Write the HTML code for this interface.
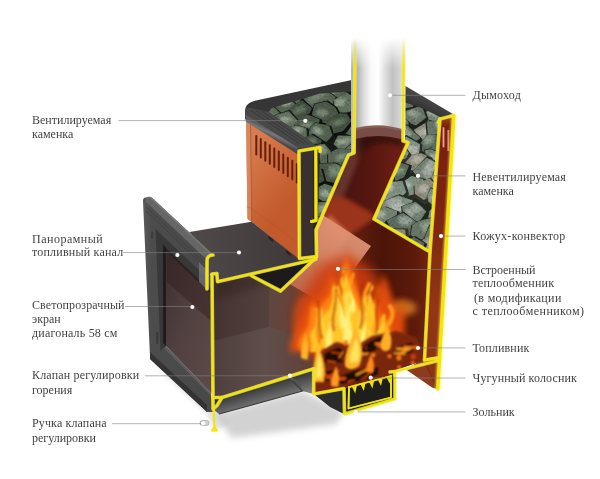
<!DOCTYPE html>
<html lang="ru"><head><meta charset="utf-8"><title>Печь</title>
<style>
html,body{margin:0;padding:0;background:#fff;}
svg{display:block;}
text{font-family:"Liberation Serif",serif;font-size:12px;fill:#1e1e1e;}
</style></head><body>
<svg width="600" height="479" viewBox="0 0 600 479">
<defs>
<filter id="b05" x="-10%" y="-10%" width="120%" height="120%"><feGaussianBlur stdDeviation="0.5"/></filter>
<filter id="b1" x="-20%" y="-20%" width="140%" height="140%"><feGaussianBlur stdDeviation="1"/></filter>
<filter id="b2" x="-30%" y="-30%" width="160%" height="160%"><feGaussianBlur stdDeviation="2"/></filter>
<filter id="b3" x="-30%" y="-30%" width="160%" height="160%"><feGaussianBlur stdDeviation="3.2"/></filter>
<filter id="b6" x="-40%" y="-40%" width="180%" height="180%"><feGaussianBlur stdDeviation="6"/></filter>
<filter id="noise" x="0" y="0" width="100%" height="100%"><feTurbulence type="fractalNoise" baseFrequency="0.45" numOctaves="3" seed="4"/><feColorMatrix type="matrix" values="0.6 0.6 0.6 0 -0.35  0.6 0.6 0.6 0 -0.35  0.6 0.6 0.6 0 -0.35  0 0 0 0 1"/><feGaussianBlur stdDeviation="0.5"/></filter>
<linearGradient id="gOr" gradientUnits="userSpaceOnUse" x1="248" y1="150" x2="298" y2="190"><stop offset="0" stop-color="#d67c50"/><stop offset="0.5" stop-color="#cd6a3c"/><stop offset="1" stop-color="#c25a2c"/></linearGradient>
<linearGradient id="gCh" gradientUnits="userSpaceOnUse" x1="351" y1="0" x2="405.5" y2="0">
 <stop offset="0" stop-color="#bebebe"/><stop offset="0.06" stop-color="#a4a4a4"/><stop offset="0.1" stop-color="#adadad"/><stop offset="0.22" stop-color="#d8d8d8"/><stop offset="0.36" stop-color="#f8f8f8"/><stop offset="0.5" stop-color="#ffffff"/><stop offset="0.6" stop-color="#e4e4e4"/><stop offset="0.76" stop-color="#c2c2c2"/><stop offset="0.9" stop-color="#d4d4d4"/><stop offset="1" stop-color="#e6e6e6"/></linearGradient>
<linearGradient id="gFade" gradientUnits="userSpaceOnUse" x1="0" y1="38" x2="0" y2="68"><stop offset="0" stop-color="#000"/><stop offset="1" stop-color="#fff"/></linearGradient>
<mask id="mCh" maskUnits="userSpaceOnUse" x="200" y="0" width="300" height="479"><rect x="200" y="0" width="300" height="479" fill="url(#gFade)"/></mask>
<linearGradient id="gFlue" gradientUnits="userSpaceOnUse" x1="330" y1="0" x2="405" y2="0"><stop offset="0" stop-color="#431511"/><stop offset="0.55" stop-color="#56160f"/><stop offset="1" stop-color="#722016"/></linearGradient>
<linearGradient id="gFb" gradientUnits="userSpaceOnUse" x1="213" y1="0" x2="430" y2="0"><stop offset="0" stop-color="#5a2a20"/><stop offset="0.5" stop-color="#7a2a14"/><stop offset="0.78" stop-color="#4c1409"/><stop offset="0.93" stop-color="#5c1a0b"/><stop offset="1" stop-color="#73260f"/></linearGradient>
<linearGradient id="gHx" x1="0" y1="1" x2="1" y2="0"><stop offset="0" stop-color="#b8604a"/><stop offset="0.6" stop-color="#d88a6c"/><stop offset="1" stop-color="#e8a07c"/></linearGradient>
<linearGradient id="gGlass" x1="0" y1="0" x2="1" y2="1"><stop offset="0" stop-color="#3a2a29"/><stop offset="0.5" stop-color="#514040"/><stop offset="1" stop-color="#5e4b48"/></linearGradient>
<linearGradient id="gChanIn" gradientUnits="userSpaceOnUse" x1="213" y1="0" x2="316" y2="0"><stop offset="0" stop-color="#433330"/><stop offset="0.54" stop-color="#54413d"/><stop offset="0.55" stop-color="#5e4742"/><stop offset="1" stop-color="#7a3a26"/></linearGradient>
<linearGradient id="gFloor" gradientUnits="userSpaceOnUse" x1="213" y1="0" x2="320" y2="0"><stop offset="0" stop-color="#4e3f3d"/><stop offset="0.5" stop-color="#604e4a"/><stop offset="1" stop-color="#623e36"/></linearGradient>
<linearGradient id="gCas" x1="0" y1="0" x2="0" y2="1"><stop offset="0" stop-color="#a8481c"/><stop offset="0.04" stop-color="#7a1f10"/><stop offset="0.35" stop-color="#7c240f"/><stop offset="0.7" stop-color="#933614"/><stop offset="1" stop-color="#8a3414"/></linearGradient>
<linearGradient id="gFrame" x1="0" y1="0" x2="1" y2="0"><stop offset="0" stop-color="#5a5a5a"/><stop offset="0.12" stop-color="#4c4c4c"/><stop offset="1" stop-color="#484848"/></linearGradient>
<linearGradient id="gUnder" gradientUnits="userSpaceOnUse" x1="260" y1="385" x2="266" y2="405"><stop offset="0" stop-color="#333"/><stop offset="1" stop-color="#7e7e7e"/></linearGradient>
<linearGradient id="gBead" gradientUnits="userSpaceOnUse" x1="272" y1="131" x2="269" y2="137.5"><stop offset="0" stop-color="#5e5e5e"/><stop offset="0.35" stop-color="#787878"/><stop offset="1" stop-color="#4a4a4a"/></linearGradient>
<linearGradient id="gTop" gradientUnits="userSpaceOnUse" x1="200" y1="0" x2="300" y2="0"><stop offset="0" stop-color="#4e4848"/><stop offset="1" stop-color="#3e3838"/></linearGradient>
<g id="yl" fill="none" stroke-linejoin="round" stroke-linecap="round">
<g mask="url(#mCh)">
<path d="M355.3,25 L354,153 L348.5,155 L316,230 L316.5,256.5 L299.5,258.5 L299,151 L320,147.5 L320,151.5"/>
<path d="M403.8,25 L403,141 L408,142.5 L374,219 L430,252 L424.5,360"/>
</g>
<path d="M315.8,150 L316,220.5 L311.5,221.5" stroke-width="3"/>
<path d="M438.5,122 L440,119 L453.5,115.5" />
<path d="M440,119 L430,252"/>
<path d="M424.5,360 L437,358"/>
<path d="M436.5,361 L395,371.5 L394.5,376"/>
<path d="M390,372 L395,371.5 L395,399 L344.5,414 L344,388.5 L313.7,394 L313.7,368.7 L222,397.5 L213,397.5"/>
<path d="M349,387 L348.5,408.5 L391,397.5 L391,376 L349.5,387" stroke-width="1.8"/>
<path d="M213,255 C209,255 207,257.5 207,261 L207,289" />
<path d="M216.8,273.6 L212,274 L213,397 L213,409 L217,405.5 L222,397.5" />
<path d="M213.5,409 L214.5,427 L212,430.5 L217,430.5 L214.5,427" stroke-width="2"/>
<path d="M216.8,273.6 L217.5,281.7 L315.7,259.3"/>
<path d="M251.4,275.7 L280.6,291 L316,257.5"/>
</g>
<linearGradient id="gRimR" gradientUnits="userSpaceOnUse" x1="425" y1="97" x2="418" y2="112"><stop offset="0" stop-color="#484848"/><stop offset="1" stop-color="#2c2c2c"/></linearGradient>
<clipPath id="cStL"><polygon points="268.7,111.7 272,108 320,93.5 353,91.5 353,153 348,155 317,228 317,147 313,143"/></clipPath>
<clipPath id="cStR"><polygon points="405,102.5 424,109 441,117.5 441,119 431,252 374,219 408,142.5 405,142"/></clipPath>
<clipPath id="cFb"><polygon points="354,124 403,124 403,141 408,142.5 374,219 430,252 424,360 394,371 390,376 349,387 344,388 313.7,393.7 313.7,368.7 222,397 212,397 212,273.5 217,273.5 217.5,282 311,260 316,257 316,230 348,155 354,153"/></clipPath>
</defs>

<rect width="600" height="479" fill="#fff"/>

<!-- shadow under door -->
<polygon points="150,362 207,414 214,430 230,424 214,404" fill="#d0d0d0" filter="url(#b2)" opacity="0.6"/>

<!-- far side convector leg -->
<polygon points="406,369.5 424,358 438,356 437.5,389 432,387.5" fill="#8c3c1c"/>
<polygon points="424,280 440,280 437,389 424,362" fill="#7a2410"/>

<!-- orange casing -->
<polygon points="246,119 298,152 298,259 251.7,221.7 247.5,219" fill="url(#gOr)"/>
<polygon points="246,119 250.5,122 251.7,221.7 247.5,219" fill="#dc8a60" opacity="0.8"/>
<path d="M250.5,122 L251.7,221.7" stroke="#a84c26" stroke-width="0.7" fill="none"/>
<path d="M247,206.5 L251.5,208.5 L298,243" stroke="#b05530" stroke-width="0.7" fill="none" opacity="0.6"/>
<rect x="255.3" y="135.0" width="2" height="20.5" rx="1" fill="#64200b"/>
<rect x="259.8" y="138.1" width="2" height="20.5" rx="1" fill="#64200b"/>
<rect x="264.3" y="141.2" width="2" height="20.5" rx="1" fill="#64200b"/>
<rect x="268.8" y="144.3" width="2" height="20.5" rx="1" fill="#64200b"/>
<rect x="273.3" y="147.4" width="2" height="20.5" rx="1" fill="#64200b"/>
<rect x="277.8" y="150.5" width="2" height="20.5" rx="1" fill="#64200b"/>
<rect x="282.3" y="153.6" width="2" height="20.5" rx="1" fill="#64200b"/>
<rect x="286.8" y="156.7" width="2" height="20.5" rx="1" fill="#64200b"/>
<rect x="291.3" y="159.8" width="2" height="20.5" rx="1" fill="#64200b"/>
<rect x="295.8" y="162.9" width="2" height="20.5" rx="1" fill="#64200b"/>

<!-- rim -->
<path d="M245,119 L245,112 C245,105.5 249,102 256,100.6 L353,79.8 L353,140 L320,150 L297.5,154 Z" fill="#363636"/>
<path d="M405,85.8 L453,114 L438,121 L405,106 Z" fill="url(#gRimR)"/>
<!-- lip -->
<path d="M245.3,114.5 C245,110 246,107.5 248.5,107.5 L268.7,111.7 L313,143 L320,147.5 L297.5,148.5 Z" fill="#484848"/>
<path d="M251,110.5 L299,143.5 M256,110.5 L304,143.5 M261.5,111 L309,144" stroke="#383838" stroke-width="0.9" fill="none"/>
<path d="M245.3,114.5 L297.5,147.5 L297.5,154 L245.8,121.7 Z" fill="url(#gBead)"/>
<!-- stones left -->
<g clip-path="url(#cStL)"><rect x="255" y="80" width="110" height="160" fill="#121714"/>
<g filter="url(#b05)"><polygon points="274.5,91.6 287.5,85.3 295.0,85.1 305.2,92.7 300.3,107.1 292.0,109.1 279.0,103.0" fill="#101410" stroke="#101410" stroke-width="2.5" stroke-linejoin="round"/>
<polygon points="275.6,90.7 287.0,85.7 293.6,85.5 302.6,91.7 298.3,103.1 291.0,104.7 279.6,99.9" fill="#485446" stroke="#485446" stroke-width="2" stroke-linejoin="round"/>
<polygon points="281.1,91.9 286.2,90.0 288.9,89.1 294.7,93.0 291.4,98.4 288.1,98.1 282.6,96.3" fill="#86937f" opacity="0.47" filter="url(#b1)"/>
<polygon points="284.8,90.2 288.8,89.1 291.8,87.5 297.8,90.9 294.8,95.4 290.5,95.4 286.1,93.8" fill="#86937f" opacity="0.58" filter="url(#b1)"/>
<polygon points="345.3,86.2 348.5,95.0 330.8,106.4 320.6,106.0 325.5,89.9" fill="#101410" stroke="#101410" stroke-width="2.5" stroke-linejoin="round"/>
<polygon points="343.2,86.3 346.0,93.3 330.5,102.4 321.4,102.1 325.8,89.3" fill="#485446" stroke="#485446" stroke-width="2" stroke-linejoin="round"/>
<polygon points="336.5,87.4 335.8,89.9 329.6,94.8 325.5,93.4 327.7,88.1" fill="#86937f" opacity="0.47" filter="url(#b1)"/>
<polygon points="336.0,88.3 339.4,92.0 330.1,95.1 326.9,95.2 328.9,89.7" fill="#86937f" opacity="0.57" filter="url(#b1)"/>
<polygon points="323.7,89.4 337.2,98.8 334.6,105.9 325.2,110.9 310.0,111.2 302.6,98.9 313.5,91.6" fill="#101410" stroke="#101410" stroke-width="2.5" stroke-linejoin="round"/>
<polygon points="322.6,89.9 334.5,97.4 332.1,103.2 323.9,107.2 310.5,107.4 304.0,97.6 313.6,91.7" fill="#485446" stroke="#485446" stroke-width="2" stroke-linejoin="round"/>
<polygon points="321.2,91.4 327.6,94.4 324.5,97.1 322.2,97.7 314.5,98.8 314.6,94.4 316.7,90.8" fill="#86937f" opacity="0.35" filter="url(#b1)"/>
<polygon points="315.0,93.8 319.9,97.7 318.6,100.4 315.7,102.6 308.6,103.1 306.9,97.9 310.7,96.3" fill="#86937f" opacity="0.32" filter="url(#b1)"/>
<polygon points="275.1,94.9 276.2,104.3 256.4,112.8 249.5,98.1 257.6,91.0" fill="#101410" stroke="#101410" stroke-width="2.5" stroke-linejoin="round"/>
<polygon points="273.0,94.2 274.0,101.8 256.6,108.6 250.4,96.8 257.5,91.1" fill="#485446" stroke="#485446" stroke-width="2" stroke-linejoin="round"/>
<polygon points="268.1,94.5 267.5,97.8 260.7,101.1 256.8,95.8 260.7,92.8" fill="#86937f" opacity="0.36" filter="url(#b1)"/>
<polygon points="263.6,91.8 263.2,95.4 256.8,99.4 252.3,93.3 256.7,89.9" fill="#86937f" opacity="0.39" filter="url(#b1)"/>
<polygon points="347.4,92.5 357.4,100.3 351.6,114.2 335.8,118.7 334.3,101.6" fill="#131813" stroke="#131813" stroke-width="2.5" stroke-linejoin="round"/>
<polygon points="346.3,93.3 355.0,99.6 349.9,110.7 336.1,114.3 334.8,100.6" fill="#505d4e" stroke="#505d4e" stroke-width="2" stroke-linejoin="round"/>
<polygon points="340.2,99.0 345.4,101.6 342.6,106.2 335.7,107.3 333.9,102.0" fill="#929e8b" opacity="0.41" filter="url(#b1)"/>
<polygon points="341.0,96.7 346.9,99.3 343.5,104.9 336.0,104.5 335.0,99.8" fill="#929e8b" opacity="0.32" filter="url(#b1)"/>
<polygon points="274.6,98.6 290.5,99.4 298.1,106.9 293.3,116.1 285.2,120.8 271.6,115.8 268.9,109.4" fill="#111511" stroke="#111511" stroke-width="2.5" stroke-linejoin="round"/>
<polygon points="274.8,98.9 288.8,99.5 295.5,105.5 291.3,112.9 284.2,116.6 272.2,112.6 269.8,107.5" fill="#455143" stroke="#455143" stroke-width="2" stroke-linejoin="round"/>
<polygon points="280.9,98.9 288.9,100.6 292.6,102.9 289.6,105.5 286.5,106.6 281.2,105.6 279.2,103.6" fill="#98a391" opacity="0.49" filter="url(#b1)"/>
<polygon points="280.8,99.2 287.1,98.7 290.6,102.4 287.9,104.8 285.4,106.1 278.5,104.9 278.4,103.1" fill="#98a391" opacity="0.35" filter="url(#b1)"/>
<polygon points="290.5,125.2 288.0,112.1 303.0,100.7 313.1,109.7 307.3,121.8" fill="#0b0e0b" stroke="#0b0e0b" stroke-width="2.5" stroke-linejoin="round"/>
<polygon points="290.9,121.0 288.7,110.5 301.9,101.4 310.8,108.6 305.7,118.3" fill="#374236" stroke="#374236" stroke-width="2" stroke-linejoin="round"/>
<polygon points="289.7,116.8 288.9,111.2 296.2,107.8 299.6,110.6 297.2,115.1" fill="#687663" opacity="0.33" filter="url(#b1)"/>
<polygon points="296.1,113.6 295.3,108.4 302.0,105.0 306.2,107.6 304.5,112.5" fill="#687663" opacity="0.52" filter="url(#b1)"/>
<polygon points="260.9,100.9 273.9,107.3 286.0,119.3 281.9,128.1 271.6,129.7 252.8,117.0 254.4,105.7" fill="#0b0e0b" stroke="#0b0e0b" stroke-width="2.5" stroke-linejoin="round"/>
<polygon points="261.2,102.3 272.6,107.5 283.2,117.1 279.6,124.1 270.5,125.4 254.0,115.2 255.4,106.2" fill="#374236" stroke="#374236" stroke-width="2" stroke-linejoin="round"/>
<polygon points="267.7,104.5 274.5,107.3 278.6,111.9 277.8,114.4 273.1,115.9 263.6,111.2 266.4,106.3" fill="#687663" opacity="0.50" filter="url(#b1)"/>
<polygon points="262.6,107.3 268.0,110.4 275.1,114.4 272.2,116.8 266.8,118.4 257.7,113.4 260.8,108.9" fill="#687663" opacity="0.46" filter="url(#b1)"/>
<polygon points="329.3,126.5 317.7,123.9 312.0,116.6 315.0,104.8 327.6,101.7 336.6,108.5 339.6,114.8" fill="#0d110d" stroke="#0d110d" stroke-width="2.5" stroke-linejoin="round"/>
<polygon points="328.0,122.4 317.8,120.3 312.8,114.4 315.4,105.0 326.5,102.6 334.4,108.0 337.1,113.0" fill="#3f4a3e" stroke="#3f4a3e" stroke-width="2" stroke-linejoin="round"/>
<polygon points="323.6,117.2 317.9,116.1 315.9,113.7 316.3,109.1 322.7,109.7 327.3,111.6 327.9,113.1" fill="#74826f" opacity="0.32" filter="url(#b1)"/>
<polygon points="324.9,116.6 319.2,115.8 316.1,113.5 319.7,108.5 323.7,109.0 328.6,111.2 329.3,112.9" fill="#74826f" opacity="0.48" filter="url(#b1)"/>
<polygon points="289.8,111.2 298.6,122.0 299.3,126.3 286.6,135.2 278.6,136.8 269.4,129.1 276.0,115.8" fill="#131813" stroke="#131813" stroke-width="2.5" stroke-linejoin="round"/>
<polygon points="288.6,112.1 296.4,120.8 296.9,124.2 285.8,131.3 278.7,132.6 270.7,126.4 276.4,115.8" fill="#505d4e" stroke="#505d4e" stroke-width="2" stroke-linejoin="round"/>
<polygon points="283.4,118.5 285.9,121.4 287.7,123.0 282.2,125.5 278.8,125.7 275.5,124.3 277.6,119.9" fill="#929e8b" opacity="0.37" filter="url(#b1)"/>
<polygon points="288.0,116.2 292.5,118.7 292.7,120.3 286.2,122.7 282.6,122.8 280.6,121.5 280.8,116.0" fill="#929e8b" opacity="0.55" filter="url(#b1)"/>
<polygon points="295.4,125.8 308.2,115.1 321.2,120.6 318.2,133.5 307.8,141.0 294.4,132.2" fill="#0d110d" stroke="#0d110d" stroke-width="2.5" stroke-linejoin="round"/>
<polygon points="296.0,124.2 307.3,115.6 318.7,120.0 316.1,130.3 307.0,136.3 295.1,129.3" fill="#3f4a3e" stroke="#3f4a3e" stroke-width="2" stroke-linejoin="round"/>
<polygon points="299.0,124.4 305.5,121.0 312.3,122.6 310.9,126.7 305.4,129.7 298.8,126.4" fill="#74826f" opacity="0.40" filter="url(#b1)"/>
<polygon points="302.0,124.6 307.0,121.9 313.9,122.5 310.8,127.5 306.7,129.6 302.6,126.6" fill="#74826f" opacity="0.34" filter="url(#b1)"/>
<polygon points="360.5,114.2 367.2,123.0 371.2,133.7 362.4,142.2 345.6,136.7 336.3,122.0 341.4,115.4" fill="#111511" stroke="#111511" stroke-width="2.5" stroke-linejoin="round"/>
<polygon points="358.9,114.8 364.9,121.9 368.4,130.4 360.6,137.3 345.9,132.8 337.6,121.1 342.1,115.8" fill="#455143" stroke="#455143" stroke-width="2" stroke-linejoin="round"/>
<polygon points="352.3,119.1 355.9,121.8 358.0,125.7 352.9,129.2 345.9,126.7 340.9,121.6 342.9,118.3" fill="#98a391" opacity="0.54" filter="url(#b1)"/>
<polygon points="358.8,115.3 362.8,119.1 361.7,123.1 359.1,126.1 352.0,123.3 348.5,118.3 348.8,116.0" fill="#98a391" opacity="0.54" filter="url(#b1)"/>
<polygon points="340.7,113.8 348.4,114.0 353.3,121.8 344.0,133.8 331.0,137.4 323.6,129.8 329.0,120.7" fill="#0b0e0b" stroke="#0b0e0b" stroke-width="2.5" stroke-linejoin="round"/>
<polygon points="339.5,114.3 346.3,114.5 350.6,120.7 342.4,130.3 331.0,133.2 324.5,127.2 329.2,119.8" fill="#374236" stroke="#374236" stroke-width="2" stroke-linejoin="round"/>
<polygon points="335.5,119.5 339.5,120.0 341.2,122.0 336.1,126.0 331.3,127.5 328.6,125.0 329.8,121.7" fill="#687663" opacity="0.30" filter="url(#b1)"/>
<polygon points="341.3,118.2 345.5,118.2 346.5,120.1 342.8,124.7 336.8,126.4 333.9,123.2 337.1,119.7" fill="#687663" opacity="0.49" filter="url(#b1)"/>
<polygon points="307.8,139.4 311.0,128.2 315.7,123.6 330.3,127.0 333.8,137.8 328.0,144.6" fill="#111511" stroke="#111511" stroke-width="2.5" stroke-linejoin="round"/>
<polygon points="308.5,136.6 311.4,127.6 315.5,123.9 328.4,126.6 331.4,135.2 326.4,140.7" fill="#455143" stroke="#455143" stroke-width="2" stroke-linejoin="round"/>
<polygon points="311.8,131.9 313.1,128.2 314.5,125.4 319.7,127.6 321.6,131.1 319.1,134.4" fill="#98a391" opacity="0.40" filter="url(#b1)"/>
<polygon points="314.5,133.7 314.2,130.4 316.5,127.9 322.9,130.0 323.4,133.8 322.2,135.6" fill="#98a391" opacity="0.35" filter="url(#b1)"/>
<polygon points="265.4,140.0 264.5,129.2 282.2,124.3 288.2,131.7 279.3,144.0" fill="#111511" stroke="#111511" stroke-width="2.5" stroke-linejoin="round"/>
<polygon points="265.6,136.7 264.8,128.1 280.4,124.2 285.7,130.2 277.9,140.0" fill="#455143" stroke="#455143" stroke-width="2" stroke-linejoin="round"/>
<polygon points="268.4,132.4 268.5,129.2 277.2,127.8 279.5,130.0 275.4,133.6" fill="#98a391" opacity="0.38" filter="url(#b1)"/>
<polygon points="266.3,131.0 266.9,127.5 274.7,125.6 278.5,128.4 273.1,133.0" fill="#98a391" opacity="0.51" filter="url(#b1)"/>
<polygon points="290.5,147.0 285.1,138.9 286.0,128.6 298.5,126.4 307.5,129.4 308.4,140.4" fill="#131813" stroke="#131813" stroke-width="2.5" stroke-linejoin="round"/>
<polygon points="290.4,143.0 285.7,136.5 286.4,128.3 297.4,126.5 305.3,128.8 306.1,137.7" fill="#505d4e" stroke="#505d4e" stroke-width="2" stroke-linejoin="round"/>
<polygon points="295.9,133.3 294.5,131.3 294.3,127.7 299.1,127.3 302.5,127.5 302.2,131.8" fill="#929e8b" opacity="0.56" filter="url(#b1)"/>
<polygon points="292.2,133.7 291.7,131.4 291.2,127.6 296.2,127.7 301.0,128.9 299.1,132.4" fill="#929e8b" opacity="0.33" filter="url(#b1)"/>
<polygon points="338.4,136.6 357.7,137.3 361.6,144.5 344.4,156.0 334.0,145.9" fill="#131813" stroke="#131813" stroke-width="2.5" stroke-linejoin="round"/>
<polygon points="338.5,136.4 355.5,137.0 359.0,142.8 343.9,152.0 334.7,143.9" fill="#505d4e" stroke="#505d4e" stroke-width="2" stroke-linejoin="round"/>
<polygon points="337.8,138.9 345.6,140.3 345.1,142.2 339.6,146.2 335.3,142.6" fill="#929e8b" opacity="0.53" filter="url(#b1)"/>
<polygon points="343.6,138.0 351.1,137.9 352.9,140.9 345.2,145.3 340.0,141.5" fill="#929e8b" opacity="0.45" filter="url(#b1)"/>
<polygon points="289.8,135.7 292.5,148.6 278.5,161.9 265.8,155.2 270.8,140.9" fill="#0b0e0b" stroke="#0b0e0b" stroke-width="2.5" stroke-linejoin="round"/>
<polygon points="287.9,136.6 290.2,146.9 277.9,157.6 266.8,152.2 271.2,140.7" fill="#374236" stroke="#374236" stroke-width="2" stroke-linejoin="round"/>
<polygon points="282.1,141.0 283.1,145.2 277.5,149.4 271.0,147.4 274.4,143.2" fill="#687663" opacity="0.30" filter="url(#b1)"/>
<polygon points="282.8,140.9 285.1,145.6 278.5,149.9 272.3,148.0 274.4,143.0" fill="#687663" opacity="0.33" filter="url(#b1)"/>
<polygon points="312.9,135.1 323.3,141.8 317.8,153.8 299.7,153.6 298.2,142.3" fill="#0b0e0b" stroke="#0b0e0b" stroke-width="2.5" stroke-linejoin="round"/>
<polygon points="311.7,135.5 320.9,140.8 316.0,150.5 300.1,150.3 298.8,141.2" fill="#374236" stroke="#374236" stroke-width="2" stroke-linejoin="round"/>
<polygon points="313.8,137.1 316.7,138.8 316.5,143.7 307.7,143.9 307.2,139.1" fill="#687663" opacity="0.50" filter="url(#b1)"/>
<polygon points="312.7,141.0 317.5,142.6 314.7,147.5 306.4,147.1 306.5,142.7" fill="#687663" opacity="0.36" filter="url(#b1)"/>
<polygon points="287.0,161.2 278.9,142.1 289.4,138.5 310.9,148.5 303.5,164.0" fill="#131813" stroke="#131813" stroke-width="2.5" stroke-linejoin="round"/>
<polygon points="287.1,157.2 279.9,142.0 289.2,139.1 308.2,147.1 301.6,159.5" fill="#505d4e" stroke="#505d4e" stroke-width="2" stroke-linejoin="round"/>
<polygon points="288.0,148.8 282.4,143.3 288.7,140.5 296.8,144.8 294.3,150.9" fill="#929e8b" opacity="0.40" filter="url(#b1)"/>
<polygon points="291.8,145.9 288.6,140.0 293.2,138.7 303.1,141.9 300.2,148.1" fill="#929e8b" opacity="0.36" filter="url(#b1)"/>
<polygon points="315.1,171.1 307.8,153.3 313.6,145.3 325.6,144.2 331.9,152.1 334.8,165.7 326.0,168.9" fill="#101410" stroke="#101410" stroke-width="2.5" stroke-linejoin="round"/>
<polygon points="315.0,166.5 308.6,152.3 313.7,145.9 324.3,145.1 329.8,151.4 332.3,162.2 324.6,164.8" fill="#485446" stroke="#485446" stroke-width="2" stroke-linejoin="round"/>
<polygon points="321.0,154.5 319.1,148.6 319.4,144.7 325.3,144.9 326.5,148.6 329.0,152.9 325.4,153.6" fill="#86937f" opacity="0.48" filter="url(#b1)"/>
<polygon points="313.1,157.8 308.8,151.8 312.5,148.3 318.0,147.8 321.4,151.6 321.8,156.1 318.0,157.3" fill="#86937f" opacity="0.33" filter="url(#b1)"/>
<polygon points="368.4,150.3 370.4,159.2 356.8,170.8 346.4,168.5 340.8,154.2 352.8,143.4" fill="#131813" stroke="#131813" stroke-width="2.5" stroke-linejoin="round"/>
<polygon points="366.1,150.0 367.8,157.1 355.9,166.4 346.7,164.6 341.8,153.2 352.3,144.5" fill="#505d4e" stroke="#505d4e" stroke-width="2" stroke-linejoin="round"/>
<polygon points="363.6,148.9 363.4,152.5 357.4,157.4 352.2,156.4 350.7,150.9 356.1,146.8" fill="#929e8b" opacity="0.60" filter="url(#b1)"/>
<polygon points="357.4,151.2 356.6,154.5 351.4,159.7 346.0,157.6 343.7,152.6 349.7,148.3" fill="#929e8b" opacity="0.42" filter="url(#b1)"/>
<polygon points="259.9,166.2 261.3,152.4 274.8,152.5 283.1,165.3 267.7,174.4" fill="#111511" stroke="#111511" stroke-width="2.5" stroke-linejoin="round"/>
<polygon points="260.4,163.6 261.5,152.6 273.4,152.6 280.7,162.9 267.1,170.1" fill="#455143" stroke="#455143" stroke-width="2" stroke-linejoin="round"/>
<polygon points="262.4,158.2 264.0,153.2 270.0,153.6 272.0,157.8 266.5,159.9" fill="#98a391" opacity="0.59" filter="url(#b1)"/>
<polygon points="262.6,162.3 264.4,156.8 270.1,157.0 273.4,162.2 266.4,166.1" fill="#98a391" opacity="0.55" filter="url(#b1)"/>
<polygon points="352.2,150.3 351.9,162.0 340.4,167.7 328.6,168.4 328.4,155.2 337.3,149.9" fill="#101410" stroke="#101410" stroke-width="2.5" stroke-linejoin="round"/>
<polygon points="350.0,150.2 349.8,159.5 339.6,164.1 329.2,164.7 329.1,154.1 336.9,149.8" fill="#485446" stroke="#485446" stroke-width="2" stroke-linejoin="round"/>
<polygon points="346.8,152.5 346.2,157.3 342.1,158.3 337.8,159.8 337.8,154.6 340.7,153.7" fill="#86937f" opacity="0.40" filter="url(#b1)"/>
<polygon points="343.5,154.2 345.3,158.2 339.7,161.1 335.8,161.4 335.3,155.9 338.1,155.0" fill="#86937f" opacity="0.36" filter="url(#b1)"/>
<polygon points="363.0,170.5 354.2,182.0 334.5,181.4 332.6,170.3 347.3,161.9 359.9,163.2" fill="#0b0e0b" stroke="#0b0e0b" stroke-width="2.5" stroke-linejoin="round"/>
<polygon points="360.3,168.9 352.6,178.1 335.2,177.6 333.5,168.8 346.4,162.1 357.5,163.1" fill="#374236" stroke="#374236" stroke-width="2" stroke-linejoin="round"/>
<polygon points="354.0,165.4 351.1,169.3 343.3,168.9 340.3,165.6 347.5,163.0 353.5,162.7" fill="#687663" opacity="0.37" filter="url(#b1)"/>
<polygon points="351.4,168.4 348.8,173.3 340.9,171.5 339.4,168.3 345.6,164.6 350.0,165.8" fill="#687663" opacity="0.44" filter="url(#b1)"/>
<polygon points="320.1,165.8 306.1,173.5 294.7,174.9 292.1,163.8 305.9,154.2 317.8,158.8" fill="#0d110d" stroke="#0d110d" stroke-width="2.5" stroke-linejoin="round"/>
<polygon points="317.6,163.8 305.2,170.0 295.1,171.1 292.8,162.2 305.0,154.5 315.5,158.2" fill="#3f4a3e" stroke="#3f4a3e" stroke-width="2" stroke-linejoin="round"/>
<polygon points="316.4,162.7 308.8,164.8 304.5,165.1 303.3,162.0 308.7,157.8 314.9,159.8" fill="#74826f" opacity="0.41" filter="url(#b1)"/>
<polygon points="310.5,161.9 303.5,164.8 297.7,164.9 299.2,161.3 303.5,158.6 308.9,160.0" fill="#74826f" opacity="0.38" filter="url(#b1)"/>
<polygon points="293.5,175.0 284.0,184.3 269.1,171.9 276.7,156.7 291.3,156.7" fill="#0b0e0b" stroke="#0b0e0b" stroke-width="2.5" stroke-linejoin="round"/>
<polygon points="291.6,171.9 283.2,179.3 270.2,169.3 276.8,157.2 289.7,157.2" fill="#374236" stroke="#374236" stroke-width="2" stroke-linejoin="round"/>
<polygon points="285.9,168.6 282.3,172.1 277.2,167.6 279.9,162.1 285.3,161.7" fill="#687663" opacity="0.56" filter="url(#b1)"/>
<polygon points="292.1,164.3 287.2,166.1 279.5,163.1 284.5,158.4 289.8,158.4" fill="#687663" opacity="0.39" filter="url(#b1)"/>
<polygon points="282.1,177.0 286.9,167.3 305.1,166.1 310.5,177.2 307.3,184.4 290.5,190.4" fill="#0b0e0b" stroke="#0b0e0b" stroke-width="2.5" stroke-linejoin="round"/>
<polygon points="283.1,175.1 287.3,167.4 303.3,166.4 308.0,175.3 305.2,181.0 290.4,185.9" fill="#374236" stroke="#374236" stroke-width="2" stroke-linejoin="round"/>
<polygon points="292.8,170.1 296.4,166.5 302.6,166.9 304.0,170.1 305.1,172.8 296.6,176.1" fill="#687663" opacity="0.35" filter="url(#b1)"/>
<polygon points="291.8,174.7 295.1,171.5 301.8,171.4 305.0,174.8 302.4,176.8 295.9,180.0" fill="#687663" opacity="0.50" filter="url(#b1)"/>
<polygon points="335.5,163.8 348.0,169.7 345.0,182.9 335.5,185.8 322.7,182.8 316.2,170.4 319.2,164.4" fill="#0d110d" stroke="#0d110d" stroke-width="2.5" stroke-linejoin="round"/>
<polygon points="334.5,164.2 345.4,168.9 342.8,179.5 334.4,181.8 323.2,179.4 317.5,169.5 320.0,164.6" fill="#3f4a3e" stroke="#3f4a3e" stroke-width="2" stroke-linejoin="round"/>
<polygon points="335.1,170.3 341.4,171.8 338.3,176.4 335.0,177.5 328.9,177.0 328.8,172.2 327.1,169.0" fill="#74826f" opacity="0.51" filter="url(#b1)"/>
<polygon points="335.5,164.3 342.3,167.3 339.2,172.6 336.0,174.0 329.7,172.7 329.0,167.7 327.6,165.7" fill="#74826f" opacity="0.53" filter="url(#b1)"/>
<polygon points="302.5,186.0 306.8,173.3 322.1,169.9 325.5,182.7 312.0,190.6" fill="#0b0e0b" stroke="#0b0e0b" stroke-width="2.5" stroke-linejoin="round"/>
<polygon points="303.2,182.7 307.0,172.6 320.4,169.9 323.4,180.1 311.5,186.4" fill="#374236" stroke="#374236" stroke-width="2" stroke-linejoin="round"/>
<polygon points="307.4,179.2 311.0,174.3 316.6,174.4 319.2,178.2 312.7,181.2" fill="#687663" opacity="0.34" filter="url(#b1)"/>
<polygon points="307.7,175.3 308.5,170.9 315.6,168.8 315.9,174.3 310.6,177.5" fill="#687663" opacity="0.51" filter="url(#b1)"/>
<polygon points="279.4,172.0 286.5,176.0 289.1,185.2 283.8,191.6 274.1,191.8 266.7,182.4 267.7,171.4" fill="#101410" stroke="#101410" stroke-width="2.5" stroke-linejoin="round"/>
<polygon points="278.4,172.1 284.7,175.4 286.9,182.7 282.3,187.8 273.7,188.0 267.3,180.4 268.1,171.6" fill="#485446" stroke="#485446" stroke-width="2" stroke-linejoin="round"/>
<polygon points="281.0,172.7 284.9,173.6 285.6,177.0 282.3,178.2 278.4,179.8 275.7,175.7 277.2,171.3" fill="#86937f" opacity="0.51" filter="url(#b1)"/>
<polygon points="276.3,176.2 279.7,176.2 281.3,180.2 278.0,182.4 274.3,182.8 270.3,178.9 272.4,175.7" fill="#86937f" opacity="0.42" filter="url(#b1)"/>
<polygon points="246.8,182.9 252.2,170.0 269.9,164.3 279.6,172.9 273.1,185.3 261.0,192.2" fill="#111511" stroke="#111511" stroke-width="2.5" stroke-linejoin="round"/>
<polygon points="248.0,180.2 252.8,169.8 268.4,165.3 276.9,172.2 271.2,182.1 260.5,187.6" fill="#455143" stroke="#455143" stroke-width="2" stroke-linejoin="round"/>
<polygon points="259.4,178.1 263.2,173.0 269.7,171.8 272.3,174.6 271.3,178.6 265.9,181.4" fill="#98a391" opacity="0.45" filter="url(#b1)"/>
<polygon points="250.8,172.8 252.9,168.8 259.8,166.9 265.3,169.3 262.6,173.1 256.6,174.5" fill="#98a391" opacity="0.45" filter="url(#b1)"/>
<polygon points="287.6,179.6 301.9,189.2 296.7,202.4 284.8,197.5 276.0,181.5" fill="#101410" stroke="#101410" stroke-width="2.5" stroke-linejoin="round"/>
<polygon points="287.0,180.0 299.6,187.7 295.0,198.3 284.6,194.4 276.9,181.5" fill="#485446" stroke="#485446" stroke-width="2" stroke-linejoin="round"/>
<polygon points="285.4,183.5 290.7,186.4 289.2,192.0 284.3,189.5 281.8,184.2" fill="#86937f" opacity="0.43" filter="url(#b1)"/>
<polygon points="282.7,181.0 288.7,184.9 286.4,188.4 281.2,187.1 279.2,182.7" fill="#86937f" opacity="0.31" filter="url(#b1)"/>
<polygon points="357.7,182.4 360.2,189.7 349.6,197.8 338.0,198.7 334.6,190.9 340.8,181.0" fill="#101410" stroke="#101410" stroke-width="2.5" stroke-linejoin="round"/>
<polygon points="355.6,181.9 357.8,187.8 348.5,194.3 338.2,195.0 335.3,188.8 340.7,180.8" fill="#485446" stroke="#485446" stroke-width="2" stroke-linejoin="round"/>
<polygon points="351.0,181.8 353.6,184.5 348.0,188.1 343.5,187.3 341.5,185.1 343.8,181.8" fill="#86937f" opacity="0.43" filter="url(#b1)"/>
<polygon points="345.9,186.1 346.6,188.1 342.3,190.6 338.3,192.0 336.8,188.5 338.4,184.9" fill="#86937f" opacity="0.47" filter="url(#b1)"/>
<polygon points="306.9,203.6 300.0,195.3 302.8,185.5 307.6,185.7 320.2,192.6 322.4,200.1 315.1,204.2" fill="#101410" stroke="#101410" stroke-width="2.5" stroke-linejoin="round"/>
<polygon points="306.6,200.3 300.5,193.6 303.0,185.7 307.2,185.9 318.3,191.4 320.3,197.5 313.8,200.7" fill="#485446" stroke="#485446" stroke-width="2" stroke-linejoin="round"/>
<polygon points="306.4,196.2 304.8,193.4 304.5,189.9 307.2,190.3 312.7,192.1 312.4,194.9 310.2,195.7" fill="#86937f" opacity="0.55" filter="url(#b1)"/>
<polygon points="310.4,196.7 308.9,193.8 308.5,190.3 311.1,189.6 316.7,193.0 317.7,195.3 314.0,196.4" fill="#86937f" opacity="0.44" filter="url(#b1)"/>
<polygon points="260.5,204.2 256.7,190.7 271.3,182.5 280.1,185.6 286.9,199.7 282.0,207.0 264.5,211.3" fill="#101410" stroke="#101410" stroke-width="2.5" stroke-linejoin="round"/>
<polygon points="261.0,200.9 257.6,190.1 270.5,183.5 278.2,186.0 284.2,197.3 279.9,203.2 264.5,206.6" fill="#485446" stroke="#485446" stroke-width="2" stroke-linejoin="round"/>
<polygon points="267.7,192.7 266.4,187.8 273.4,184.2 276.9,186.7 281.7,191.5 276.8,193.3 270.5,195.0" fill="#86937f" opacity="0.32" filter="url(#b1)"/>
<polygon points="266.9,193.5 267.4,189.0 272.5,184.9 276.4,187.7 279.3,191.9 276.7,193.6 270.4,197.4" fill="#86937f" opacity="0.53" filter="url(#b1)"/>
<polygon points="332.6,187.2 341.4,200.7 333.5,205.3 329.1,207.6 317.8,199.8 318.2,188.6 324.8,184.5" fill="#131813" stroke="#131813" stroke-width="2.5" stroke-linejoin="round"/>
<polygon points="331.3,187.0 339.0,197.8 332.1,201.5 328.3,203.3 318.3,197.1 318.6,188.2 324.5,184.9" fill="#505d4e" stroke="#505d4e" stroke-width="2" stroke-linejoin="round"/>
<polygon points="328.4,190.5 330.2,196.4 328.5,196.8 326.6,197.3 320.4,195.1 323.0,191.7 324.6,190.0" fill="#929e8b" opacity="0.55" filter="url(#b1)"/>
<polygon points="325.0,189.4 329.3,195.1 325.1,197.3 323.7,196.6 319.1,194.8 319.5,190.7 321.8,189.8" fill="#929e8b" opacity="0.34" filter="url(#b1)"/>
<polygon points="315.5,210.8 301.8,214.3 283.4,207.3 285.8,199.2 290.1,195.3 304.5,196.0 316.9,203.3" fill="#131813" stroke="#131813" stroke-width="2.5" stroke-linejoin="round"/>
<polygon points="312.7,207.7 300.7,210.5 284.4,204.9 286.6,198.4 290.4,195.3 303.1,195.8 314.0,201.6" fill="#505d4e" stroke="#505d4e" stroke-width="2" stroke-linejoin="round"/>
<polygon points="311.1,202.9 303.8,204.4 297.1,201.6 295.2,198.5 299.4,196.9 304.9,198.1 308.9,200.0" fill="#929e8b" opacity="0.57" filter="url(#b1)"/>
<polygon points="310.8,205.2 303.4,205.0 297.7,203.6 297.5,201.0 299.6,199.2 305.2,199.0 310.1,202.1" fill="#929e8b" opacity="0.47" filter="url(#b1)"/>
<polygon points="324.7,213.6 332.2,200.6 342.9,196.0 354.7,202.3 344.3,218.4 331.9,223.4" fill="#111511" stroke="#111511" stroke-width="2.5" stroke-linejoin="round"/>
<polygon points="325.5,211.0 332.1,200.6 341.5,196.8 351.9,201.9 342.7,214.8 331.8,218.8" fill="#455143" stroke="#455143" stroke-width="2" stroke-linejoin="round"/>
<polygon points="329.9,205.3 333.0,201.3 338.1,197.4 344.0,201.1 338.7,206.0 333.0,208.4" fill="#98a391" opacity="0.34" filter="url(#b1)"/>
<polygon points="331.8,209.8 336.6,205.0 340.5,204.3 347.2,205.7 340.4,210.7 336.1,212.6" fill="#98a391" opacity="0.33" filter="url(#b1)"/>
<polygon points="275.8,210.8 268.0,218.2 254.6,214.5 255.3,200.8 267.6,201.1" fill="#131813" stroke="#131813" stroke-width="2.5" stroke-linejoin="round"/>
<polygon points="273.5,208.7 266.6,214.6 254.8,211.6 255.4,200.7 266.3,200.9" fill="#505d4e" stroke="#505d4e" stroke-width="2" stroke-linejoin="round"/>
<polygon points="268.9,208.4 266.2,210.9 260.3,209.7 261.4,205.7 266.4,205.4" fill="#929e8b" opacity="0.32" filter="url(#b1)"/>
<polygon points="271.5,204.9 266.7,206.5 260.6,205.9 261.7,201.7 266.9,201.4" fill="#929e8b" opacity="0.49" filter="url(#b1)"/>
<polygon points="357.3,202.7 369.1,210.9 360.3,222.7 342.3,216.1 342.2,201.4" fill="#0b0e0b" stroke="#0b0e0b" stroke-width="2.5" stroke-linejoin="round"/>
<polygon points="356.0,202.7 366.4,209.3 358.7,218.7 342.9,213.4 342.8,201.7" fill="#374236" stroke="#374236" stroke-width="2" stroke-linejoin="round"/>
<polygon points="356.4,204.3 361.6,207.0 357.4,210.9 351.0,209.2 350.1,203.6" fill="#687663" opacity="0.43" filter="url(#b1)"/>
<polygon points="353.8,206.9 358.7,209.2 355.0,213.9 347.2,211.1 346.9,206.5" fill="#687663" opacity="0.50" filter="url(#b1)"/>
<polygon points="270.8,227.0 271.0,218.7 272.5,207.0 295.1,197.3 298.7,202.2 304.0,211.7 292.2,222.6" fill="#0b0e0b" stroke="#0b0e0b" stroke-width="2.5" stroke-linejoin="round"/>
<polygon points="271.8,222.3 272.0,215.6 273.3,206.3 293.1,198.6 296.3,202.5 301.0,210.1 290.6,218.8" fill="#374236" stroke="#374236" stroke-width="2" stroke-linejoin="round"/>
<polygon points="276.4,211.1 276.0,208.7 278.9,204.2 287.8,201.5 290.1,203.1 289.8,206.2 286.6,209.4" fill="#687663" opacity="0.35" filter="url(#b1)"/>
<polygon points="273.0,216.3 270.8,212.7 273.8,207.7 282.7,203.8 285.3,206.9 285.7,209.8 280.9,212.9" fill="#687663" opacity="0.31" filter="url(#b1)"/>
<polygon points="329.8,202.6 337.4,211.1 328.2,223.7 314.0,225.6 306.5,215.8 316.5,202.5" fill="#111511" stroke="#111511" stroke-width="2.5" stroke-linejoin="round"/>
<polygon points="328.1,203.0 334.7,209.8 326.6,219.9 314.1,221.4 307.5,213.5 316.3,202.9" fill="#455143" stroke="#455143" stroke-width="2" stroke-linejoin="round"/>
<polygon points="322.2,204.2 325.6,208.2 322.1,212.8 315.7,214.4 312.7,210.1 317.5,205.3" fill="#98a391" opacity="0.40" filter="url(#b1)"/>
<polygon points="327.4,203.3 330.1,207.1 327.0,211.2 321.3,211.3 318.6,208.4 322.7,203.8" fill="#98a391" opacity="0.37" filter="url(#b1)"/>
<polygon points="304.3,211.3 314.8,219.7 315.9,226.6 309.1,232.6 295.5,234.9 290.0,222.3 299.5,214.8" fill="#111511" stroke="#111511" stroke-width="2.5" stroke-linejoin="round"/>
<polygon points="303.5,211.8 312.6,218.6 313.7,224.1 307.6,228.9 295.7,230.7 290.9,220.6 299.2,214.6" fill="#455143" stroke="#455143" stroke-width="2" stroke-linejoin="round"/>
<polygon points="304.7,213.7 310.0,216.6 309.3,219.4 306.1,221.7 300.3,221.0 299.8,217.7 303.1,214.8" fill="#98a391" opacity="0.34" filter="url(#b1)"/>
<polygon points="301.0,213.4 305.9,216.1 306.6,218.2 303.1,221.1 296.6,222.2 294.5,216.9 299.0,213.5" fill="#98a391" opacity="0.39" filter="url(#b1)"/>
<polygon points="274.1,211.3 277.3,224.6 268.0,236.1 246.9,237.5 250.2,219.8" fill="#101410" stroke="#101410" stroke-width="2.5" stroke-linejoin="round"/>
<polygon points="271.9,212.0 274.7,222.7 266.5,231.9 247.9,233.0 250.9,218.9" fill="#485446" stroke="#485446" stroke-width="2" stroke-linejoin="round"/>
<polygon points="265.0,216.7 266.1,221.1 263.1,225.5 254.0,226.8 254.8,219.0" fill="#86937f" opacity="0.31" filter="url(#b1)"/>
<polygon points="269.8,213.6 269.9,219.0 267.0,223.3 257.6,223.1 258.0,217.5" fill="#86937f" opacity="0.54" filter="url(#b1)"/>
<polygon points="308.2,235.3 314.0,217.2 326.7,218.7 336.0,229.8 323.3,241.8" fill="#131813" stroke="#131813" stroke-width="2.5" stroke-linejoin="round"/>
<polygon points="309.0,232.2 314.1,217.7 325.3,219.0 333.5,227.8 322.3,237.4" fill="#505d4e" stroke="#505d4e" stroke-width="2" stroke-linejoin="round"/>
<polygon points="320.2,226.1 320.8,220.0 326.7,219.0 330.2,223.5 325.4,227.1" fill="#929e8b" opacity="0.58" filter="url(#b1)"/>
<polygon points="318.2,226.1 321.3,219.2 327.4,221.5 329.1,224.6 325.5,229.6" fill="#929e8b" opacity="0.58" filter="url(#b1)"/>
<polygon points="328.5,222.2 351.5,217.0 357.3,226.5 358.0,233.8 346.9,245.4 330.8,241.7 327.0,232.4" fill="#131813" stroke="#131813" stroke-width="2.5" stroke-linejoin="round"/>
<polygon points="329.4,222.1 349.6,217.9 354.7,225.6 355.3,231.3 345.6,240.7 331.4,237.7 328.0,230.2" fill="#505d4e" stroke="#505d4e" stroke-width="2" stroke-linejoin="round"/>
<polygon points="335.4,225.7 347.8,223.6 348.9,227.9 350.2,229.9 344.5,234.5 338.4,232.8 338.1,229.5" fill="#929e8b" opacity="0.52" filter="url(#b1)"/>
<polygon points="338.7,226.1 347.9,223.6 351.4,227.6 351.6,230.1 346.9,233.1 340.8,232.4 340.2,229.5" fill="#929e8b" opacity="0.54" filter="url(#b1)"/>
<polygon points="263.3,236.2 266.7,224.1 272.0,219.9 285.4,223.9 287.2,231.8 281.2,240.2 269.7,239.5" fill="#101410" stroke="#101410" stroke-width="2.5" stroke-linejoin="round"/>
<polygon points="263.9,233.3 267.0,223.6 271.6,220.2 283.4,223.5 285.0,229.8 279.7,236.5 269.6,235.9" fill="#485446" stroke="#485446" stroke-width="2" stroke-linejoin="round"/>
<polygon points="266.7,230.7 267.0,226.7 269.6,224.0 274.5,226.6 275.3,229.0 274.1,231.6 269.3,232.3" fill="#86937f" opacity="0.36" filter="url(#b1)"/>
<polygon points="270.5,230.1 271.9,225.8 274.4,224.3 279.8,226.9 282.3,229.0 277.8,231.2 273.8,232.1" fill="#86937f" opacity="0.35" filter="url(#b1)"/></g><rect x="255" y="80" width="110" height="160" filter="url(#noise)" opacity="0.35" style="mix-blend-mode:overlay"/></g>
<!-- stones right -->
<g clip-path="url(#cStR)"><rect x="365" y="85" width="85" height="175" fill="#1a201c"/>
<g filter="url(#b05)"><polygon points="411.7,96.4 419.5,88.8 433.5,87.8 437.6,98.1 428.1,108.5 415.6,109.4" fill="#191e19" stroke="#191e19" stroke-width="2.5" stroke-linejoin="round"/>
<polygon points="412.5,95.0 419.4,88.9 431.7,88.1 435.4,96.3 426.9,104.6 416.0,105.3" fill="#566256" stroke="#566256" stroke-width="2" stroke-linejoin="round"/>
<polygon points="417.6,93.1 420.5,89.8 427.4,90.4 427.7,93.6 424.2,96.3 419.8,96.6" fill="#97a394" opacity="0.55" filter="url(#b1)"/>
<polygon points="421.4,95.5 423.4,92.3 430.4,92.0 431.9,96.1 427.7,99.2 421.0,100.8" fill="#97a394" opacity="0.38" filter="url(#b1)"/>
<polygon points="390.4,112.9 384.8,104.8 394.0,91.7 412.7,97.7 414.9,108.8" fill="#191e19" stroke="#191e19" stroke-width="2.5" stroke-linejoin="round"/>
<polygon points="390.5,109.3 385.6,102.8 393.7,92.3 410.2,97.1 412.1,105.9" fill="#566256" stroke="#566256" stroke-width="2" stroke-linejoin="round"/>
<polygon points="396.0,103.9 392.4,100.2 397.7,96.0 407.3,97.8 408.3,101.7" fill="#97a394" opacity="0.48" filter="url(#b1)"/>
<polygon points="392.9,103.4 392.3,100.7 394.3,96.3 402.3,98.7 403.5,101.8" fill="#97a394" opacity="0.31" filter="url(#b1)"/>
<polygon points="448.4,87.8 453.6,107.7 449.8,118.2 427.3,104.4 429.9,89.0" fill="#2b2b23" stroke="#2b2b23" stroke-width="2.5" stroke-linejoin="round"/>
<polygon points="446.6,88.7 451.2,104.7 447.8,113.0 428.0,102.0 430.4,89.7" fill="#737366" stroke="#737366" stroke-width="2" stroke-linejoin="round"/>
<polygon points="445.0,89.2 448.8,96.4 446.7,98.7 435.2,94.8 437.1,89.2" fill="#adab9b" opacity="0.51" filter="url(#b1)"/>
<polygon points="439.2,89.4 441.6,95.8 438.4,98.4 430.8,94.6 430.0,90.4" fill="#adab9b" opacity="0.59" filter="url(#b1)"/>
<polygon points="369.4,97.8 392.4,101.0 395.1,110.6 385.4,121.3 371.8,113.6" fill="#1d221d" stroke="#1d221d" stroke-width="2.5" stroke-linejoin="round"/>
<polygon points="370.1,98.1 390.4,100.7 392.8,108.4 384.2,116.9 372.2,110.7" fill="#606c60" stroke="#606c60" stroke-width="2" stroke-linejoin="round"/>
<polygon points="376.5,100.3 386.8,101.4 387.8,105.1 383.7,109.6 378.1,106.1" fill="#a6b0a2" opacity="0.44" filter="url(#b1)"/>
<polygon points="371.8,102.1 380.3,104.1 382.8,107.0 378.4,109.8 372.7,108.3" fill="#a6b0a2" opacity="0.47" filter="url(#b1)"/>
<polygon points="449.5,105.7 444.0,122.4 427.2,128.7 422.5,118.7 438.6,102.9" fill="#1d221d" stroke="#1d221d" stroke-width="2.5" stroke-linejoin="round"/>
<polygon points="447.0,105.9 442.1,119.3 427.4,124.4 423.2,116.4 437.4,103.7" fill="#606c60" stroke="#606c60" stroke-width="2" stroke-linejoin="round"/>
<polygon points="444.6,108.8 442.0,113.8 434.4,117.6 430.7,113.0 439.2,107.7" fill="#a6b0a2" opacity="0.48" filter="url(#b1)"/>
<polygon points="437.7,108.9 433.5,114.4 425.8,116.3 423.9,113.2 431.8,108.1" fill="#a6b0a2" opacity="0.35" filter="url(#b1)"/>
<polygon points="422.7,106.2 427.3,119.2 417.0,128.2 404.6,123.1 406.4,112.4" fill="#191e19" stroke="#191e19" stroke-width="2.5" stroke-linejoin="round"/>
<polygon points="421.0,106.8 425.1,117.2 416.0,124.3 405.1,120.3 406.6,111.7" fill="#566256" stroke="#566256" stroke-width="2" stroke-linejoin="round"/>
<polygon points="417.5,110.6 420.8,114.9 415.8,118.9 411.3,116.3 411.5,112.7" fill="#97a394" opacity="0.35" filter="url(#b1)"/>
<polygon points="413.8,109.5 415.7,113.5 411.6,116.8 407.1,114.6 407.1,111.3" fill="#97a394" opacity="0.50" filter="url(#b1)"/>
<polygon points="368.0,114.9 380.1,113.8 389.5,115.3 400.7,123.4 394.7,132.5 380.5,131.9 372.5,128.0" fill="#161b16" stroke="#161b16" stroke-width="2.5" stroke-linejoin="round"/>
<polygon points="369.0,114.6 379.7,113.7 387.9,114.9 397.8,121.4 392.5,128.7 380.0,128.2 373.0,125.1" fill="#4c594d" stroke="#4c594d" stroke-width="2" stroke-linejoin="round"/>
<polygon points="377.7,117.4 384.5,117.2 388.9,117.9 393.5,121.1 391.3,125.0 384.4,123.5 382.5,122.6" fill="#8a9788" opacity="0.42" filter="url(#b1)"/>
<polygon points="377.7,115.9 381.4,115.0 385.3,115.5 390.5,118.2 386.4,120.9 381.5,120.7 377.2,119.7" fill="#8a9788" opacity="0.55" filter="url(#b1)"/>
<polygon points="382.1,125.2 389.4,114.4 396.2,113.6 409.4,123.6 410.3,130.7 402.6,135.0 388.1,130.8" fill="#191e19" stroke="#191e19" stroke-width="2.5" stroke-linejoin="round"/>
<polygon points="383.1,123.2 389.6,114.5 395.5,113.9 407.2,121.9 407.9,127.6 401.1,131.0 388.4,127.7" fill="#566256" stroke="#566256" stroke-width="2" stroke-linejoin="round"/>
<polygon points="390.9,122.9 396.6,118.8 398.5,118.1 404.9,122.3 403.7,125.0 401.1,126.2 394.6,125.4" fill="#97a394" opacity="0.46" filter="url(#b1)"/>
<polygon points="385.5,120.0 388.4,116.1 391.1,116.0 397.5,119.4 397.7,121.6 393.9,123.0 387.0,121.9" fill="#97a394" opacity="0.49" filter="url(#b1)"/>
<polygon points="430.1,121.2 439.6,127.4 436.5,140.7 417.1,144.3 412.1,133.3" fill="#2b2b23" stroke="#2b2b23" stroke-width="2.5" stroke-linejoin="round"/>
<polygon points="428.8,121.8 437.1,126.8 434.4,137.5 417.3,140.3 412.9,131.5" fill="#737366" stroke="#737366" stroke-width="2" stroke-linejoin="round"/>
<polygon points="423.9,127.9 429.7,129.6 426.9,135.3 419.5,135.6 415.5,132.1" fill="#adab9b" opacity="0.58" filter="url(#b1)"/>
<polygon points="430.2,127.0 434.0,128.8 433.0,133.6 424.0,134.6 422.1,131.4" fill="#adab9b" opacity="0.55" filter="url(#b1)"/>
<polygon points="428.4,141.4 426.7,122.0 447.6,122.1 460.1,132.9 450.5,148.7" fill="#191e19" stroke="#191e19" stroke-width="2.5" stroke-linejoin="round"/>
<polygon points="429.2,137.7 427.7,122.2 446.1,122.3 457.0,131.0 448.6,143.6" fill="#566256" stroke="#566256" stroke-width="2" stroke-linejoin="round"/>
<polygon points="436.8,127.8 434.4,120.4 443.4,120.5 449.9,124.9 445.9,130.1" fill="#97a394" opacity="0.59" filter="url(#b1)"/>
<polygon points="438.0,130.3 436.0,123.5 444.8,122.4 449.8,127.3 447.0,133.9" fill="#97a394" opacity="0.58" filter="url(#b1)"/>
<polygon points="415.5,134.2 421.8,140.5 409.3,150.2 399.4,147.7 392.2,136.9 394.4,123.7 408.4,126.1" fill="#191e19" stroke="#191e19" stroke-width="2.5" stroke-linejoin="round"/>
<polygon points="413.4,133.0 419.0,138.0 408.0,145.7 399.3,143.7 392.9,135.1 394.9,124.5 407.2,126.5" fill="#566256" stroke="#566256" stroke-width="2" stroke-linejoin="round"/>
<polygon points="402.8,132.4 404.6,134.5 400.5,138.9 396.7,137.9 393.4,133.5 393.7,128.2 400.0,130.4" fill="#97a394" opacity="0.37" filter="url(#b1)"/>
<polygon points="409.7,131.7 412.0,133.9 408.0,138.0 402.9,136.2 401.6,132.4 401.6,126.7 407.0,129.1" fill="#97a394" opacity="0.56" filter="url(#b1)"/>
<polygon points="386.2,135.1 372.8,145.6 361.5,139.9 358.6,132.0 366.2,122.7 375.5,122.4 386.3,129.9" fill="#161b16" stroke="#161b16" stroke-width="2.5" stroke-linejoin="round"/>
<polygon points="383.8,132.7 372.0,141.1 362.0,136.6 359.5,130.2 366.2,122.8 374.4,122.6 383.9,128.6" fill="#4c594d" stroke="#4c594d" stroke-width="2" stroke-linejoin="round"/>
<polygon points="377.2,129.5 371.2,132.4 366.7,131.5 365.1,128.6 367.8,124.7 372.1,126.1 376.1,128.0" fill="#8a9788" opacity="0.54" filter="url(#b1)"/>
<polygon points="377.9,126.9 372.3,131.5 367.5,128.4 367.4,126.0 370.0,123.3 373.5,122.5 378.9,125.3" fill="#8a9788" opacity="0.33" filter="url(#b1)"/>
<polygon points="373.3,132.6 392.3,127.1 398.4,129.1 404.6,146.4 392.9,152.0 382.4,153.0 373.8,144.0" fill="#1d221d" stroke="#1d221d" stroke-width="2.5" stroke-linejoin="round"/>
<polygon points="374.4,132.2 391.1,127.8 396.5,129.4 401.9,143.2 391.7,147.7 382.4,148.5 374.8,141.3" fill="#606c60" stroke="#606c60" stroke-width="2" stroke-linejoin="round"/>
<polygon points="379.3,134.6 386.7,133.1 390.5,133.3 393.5,139.3 387.2,141.6 383.4,142.1 380.0,139.0" fill="#a6b0a2" opacity="0.52" filter="url(#b1)"/>
<polygon points="376.2,134.6 383.9,132.6 386.2,133.5 388.8,139.7 384.7,142.7 379.9,142.2 374.5,139.3" fill="#a6b0a2" opacity="0.35" filter="url(#b1)"/>
<polygon points="427.3,135.9 447.5,135.4 444.4,152.0 429.0,158.5 417.0,150.5" fill="#161b16" stroke="#161b16" stroke-width="2.5" stroke-linejoin="round"/>
<polygon points="427.4,136.0 445.1,135.6 442.4,148.9 428.9,154.0 418.3,147.7" fill="#4c594d" stroke="#4c594d" stroke-width="2" stroke-linejoin="round"/>
<polygon points="426.2,135.5 433.4,134.5 432.8,140.9 426.9,141.4 422.0,139.8" fill="#8a9788" opacity="0.53" filter="url(#b1)"/>
<polygon points="425.9,138.8 434.3,139.2 432.2,144.0 426.8,146.0 422.2,143.6" fill="#8a9788" opacity="0.46" filter="url(#b1)"/>
<polygon points="406.4,136.4 421.2,145.4 419.2,161.6 412.0,164.3 400.9,155.6 399.2,142.6" fill="#222822" stroke="#222822" stroke-width="2.5" stroke-linejoin="round"/>
<polygon points="406.0,137.6 419.1,144.8 417.3,157.8 411.0,160.0 401.2,153.0 399.7,142.6" fill="#6b776c" stroke="#6b776c" stroke-width="2" stroke-linejoin="round"/>
<polygon points="404.1,144.8 411.8,146.6 408.8,151.5 406.8,153.5 401.1,150.6 401.2,146.2" fill="#b2bab0" opacity="0.44" filter="url(#b1)"/>
<polygon points="411.0,144.7 418.9,147.5 417.4,153.7 413.3,154.7 409.3,151.5 407.9,147.1" fill="#b2bab0" opacity="0.59" filter="url(#b1)"/>
<polygon points="407.7,160.2 395.9,165.5 389.2,162.0 382.9,146.9 391.4,142.7 403.0,145.3 410.2,154.9" fill="#2b2b23" stroke="#2b2b23" stroke-width="2.5" stroke-linejoin="round"/>
<polygon points="405.5,157.2 395.1,161.4 389.2,158.6 383.7,146.5 391.2,143.1 401.3,145.3 407.7,152.9" fill="#737366" stroke="#737366" stroke-width="2" stroke-linejoin="round"/>
<polygon points="396.1,151.6 391.5,152.3 388.9,151.7 385.5,146.7 389.6,145.0 394.0,146.6 395.9,149.3" fill="#adab9b" opacity="0.45" filter="url(#b1)"/>
<polygon points="398.9,150.2 393.3,151.7 390.9,151.3 388.1,146.2 391.3,144.6 397.0,145.9 400.7,148.3" fill="#adab9b" opacity="0.44" filter="url(#b1)"/>
<polygon points="388.3,159.2 377.0,163.6 367.5,154.9 369.3,141.8 379.2,140.5 389.6,150.0" fill="#161b16" stroke="#161b16" stroke-width="2.5" stroke-linejoin="round"/>
<polygon points="386.3,155.9 376.3,159.5 368.0,152.5 369.6,142.0 378.3,140.9 387.5,148.6" fill="#4c594d" stroke="#4c594d" stroke-width="2" stroke-linejoin="round"/>
<polygon points="382.8,151.0 377.8,152.5 373.9,150.2 375.5,145.9 378.8,144.6 383.2,148.0" fill="#8a9788" opacity="0.39" filter="url(#b1)"/>
<polygon points="380.8,149.5 375.4,150.8 371.5,148.2 371.9,143.4 376.4,143.1 380.0,146.0" fill="#8a9788" opacity="0.58" filter="url(#b1)"/>
<polygon points="453.3,167.6 446.9,172.1 434.3,171.1 427.7,167.0 425.4,150.6 430.6,149.8 445.7,156.2" fill="#1d221d" stroke="#1d221d" stroke-width="2.5" stroke-linejoin="round"/>
<polygon points="450.5,164.6 445.0,168.2 433.8,167.4 428.1,164.1 426.0,151.0 430.6,150.4 443.9,155.4" fill="#606c60" stroke="#606c60" stroke-width="2" stroke-linejoin="round"/>
<polygon points="442.6,159.3 438.4,159.7 434.2,160.4 430.2,158.3 430.8,152.7 432.6,153.5 438.3,155.3" fill="#a6b0a2" opacity="0.31" filter="url(#b1)"/>
<polygon points="440.0,160.1 437.5,162.5 432.7,161.4 430.3,160.3 430.0,155.0 430.9,154.3 438.2,155.9" fill="#a6b0a2" opacity="0.46" filter="url(#b1)"/>
<polygon points="406.2,170.4 405.6,164.7 412.3,156.1 422.5,154.0 431.6,158.6 432.8,168.3 419.8,175.6" fill="#2b2b23" stroke="#2b2b23" stroke-width="2.5" stroke-linejoin="round"/>
<polygon points="406.9,167.4 406.4,162.9 412.3,156.0 421.3,154.3 429.2,158.0 430.3,165.7 418.8,171.6" fill="#737366" stroke="#737366" stroke-width="2" stroke-linejoin="round"/>
<polygon points="410.0,161.9 412.2,159.7 413.8,156.6 417.4,156.0 420.7,157.6 423.9,161.0 416.7,163.7" fill="#adab9b" opacity="0.38" filter="url(#b1)"/>
<polygon points="411.9,160.7 411.4,158.8 413.5,155.9 418.3,155.4 421.7,157.1 423.5,160.3 416.6,162.7" fill="#adab9b" opacity="0.50" filter="url(#b1)"/>
<polygon points="437.6,163.6 440.1,187.8 426.9,189.6 412.9,172.9 427.4,157.3" fill="#1d221d" stroke="#1d221d" stroke-width="2.5" stroke-linejoin="round"/>
<polygon points="435.8,163.9 438.0,183.2 426.4,184.7 414.1,171.3 426.8,158.8" fill="#606c60" stroke="#606c60" stroke-width="2" stroke-linejoin="round"/>
<polygon points="435.4,163.1 435.0,172.1 430.8,172.9 424.0,166.0 430.7,159.2" fill="#a6b0a2" opacity="0.55" filter="url(#b1)"/>
<polygon points="431.5,168.3 432.2,177.1 426.4,178.0 421.2,172.0 426.7,165.5" fill="#a6b0a2" opacity="0.53" filter="url(#b1)"/>
<polygon points="363.1,166.2 385.6,162.4 388.0,176.2 374.5,183.2 356.1,176.9" fill="#191e19" stroke="#191e19" stroke-width="2.5" stroke-linejoin="round"/>
<polygon points="363.6,165.4 383.4,162.4 385.5,173.5 373.7,179.1 357.5,174.0" fill="#566256" stroke="#566256" stroke-width="2" stroke-linejoin="round"/>
<polygon points="365.2,165.1 373.6,163.1 377.0,168.9 370.0,170.7 363.3,168.6" fill="#97a394" opacity="0.37" filter="url(#b1)"/>
<polygon points="367.2,163.4 377.0,162.9 375.9,167.5 371.6,169.0 361.6,167.6" fill="#97a394" opacity="0.35" filter="url(#b1)"/>
<polygon points="410.6,166.1 405.8,179.3 389.9,187.1 381.4,180.8 384.2,167.4 395.2,161.0" fill="#161b16" stroke="#161b16" stroke-width="2.5" stroke-linejoin="round"/>
<polygon points="407.9,165.9 403.6,176.4 389.6,182.7 382.1,177.7 384.6,167.0 394.2,161.8" fill="#4c594d" stroke="#4c594d" stroke-width="2" stroke-linejoin="round"/>
<polygon points="404.3,168.3 403.3,173.0 395.5,174.4 391.4,172.8 393.9,168.1 398.1,167.7" fill="#8a9788" opacity="0.53" filter="url(#b1)"/>
<polygon points="399.5,164.4 397.5,169.7 390.9,172.5 385.8,169.7 389.1,165.5 393.2,163.4" fill="#8a9788" opacity="0.33" filter="url(#b1)"/>
<polygon points="435.4,170.5 453.0,175.5 451.2,187.3 434.3,196.3 429.4,186.3" fill="#222822" stroke="#222822" stroke-width="2.5" stroke-linejoin="round"/>
<polygon points="435.3,171.1 450.8,175.1 449.2,184.5 434.3,191.7 430.0,183.7" fill="#6b776c" stroke="#6b776c" stroke-width="2" stroke-linejoin="round"/>
<polygon points="436.7,177.1 445.7,178.9 444.2,182.1 436.9,184.6 435.0,182.1" fill="#b2bab0" opacity="0.45" filter="url(#b1)"/>
<polygon points="434.3,177.1 441.4,178.3 439.6,182.7 433.3,184.9 429.8,182.5" fill="#b2bab0" opacity="0.34" filter="url(#b1)"/>
<polygon points="377.5,175.4 392.9,173.2 394.2,181.7 384.3,199.7 370.6,201.4 365.7,193.3 367.8,176.9" fill="#161b16" stroke="#161b16" stroke-width="2.5" stroke-linejoin="round"/>
<polygon points="376.9,176.0 390.5,174.3 391.7,181.0 382.9,195.5 370.8,196.8 366.6,190.4 368.4,177.2" fill="#4c594d" stroke="#4c594d" stroke-width="2" stroke-linejoin="round"/>
<polygon points="373.0,177.8 379.0,175.8 380.6,180.5 375.1,185.5 370.4,187.8 368.5,184.2 367.9,178.1" fill="#8a9788" opacity="0.56" filter="url(#b1)"/>
<polygon points="372.9,177.0 377.8,176.5 380.6,178.4 375.6,184.8 370.2,184.7 367.3,182.5 367.4,175.8" fill="#8a9788" opacity="0.39" filter="url(#b1)"/>
<polygon points="400.0,200.1 396.8,188.3 412.8,176.4 425.1,180.5 422.4,195.3" fill="#222822" stroke="#222822" stroke-width="2.5" stroke-linejoin="round"/>
<polygon points="400.4,196.0 397.6,186.6 411.7,177.0 422.5,180.3 420.1,192.2" fill="#6b776c" stroke="#6b776c" stroke-width="2" stroke-linejoin="round"/>
<polygon points="399.9,190.7 398.2,185.9 405.6,182.3 410.3,183.0 409.5,187.8" fill="#b2bab0" opacity="0.34" filter="url(#b1)"/>
<polygon points="400.4,190.4 397.3,185.9 405.4,181.4 411.5,183.2 409.9,187.8" fill="#b2bab0" opacity="0.49" filter="url(#b1)"/>
<polygon points="390.3,182.6 403.9,181.3 407.7,193.9 399.9,202.7 387.9,206.3 378.6,197.9 382.6,188.7" fill="#222822" stroke="#222822" stroke-width="2.5" stroke-linejoin="round"/>
<polygon points="389.9,182.9 401.8,181.9 405.1,192.0 398.2,199.0 387.7,201.9 379.5,195.2 383.1,187.8" fill="#6b776c" stroke="#6b776c" stroke-width="2" stroke-linejoin="round"/>
<polygon points="385.6,183.5 392.0,182.7 393.2,187.3 389.8,190.1 384.8,191.2 381.8,189.3 383.5,185.2" fill="#b2bab0" opacity="0.43" filter="url(#b1)"/>
<polygon points="385.7,185.8 392.4,184.0 393.3,188.7 389.6,191.5 385.2,193.3 382.4,189.7 383.1,186.5" fill="#b2bab0" opacity="0.49" filter="url(#b1)"/>
<polygon points="414.7,186.7 430.6,179.1 437.4,186.3 434.1,198.4 424.5,203.3 415.3,196.5" fill="#2b2b23" stroke="#2b2b23" stroke-width="2.5" stroke-linejoin="round"/>
<polygon points="415.3,185.5 429.3,179.4 435.3,185.2 432.4,194.9 423.9,198.8 415.9,193.4" fill="#737366" stroke="#737366" stroke-width="2" stroke-linejoin="round"/>
<polygon points="420.6,187.0 426.0,184.3 428.6,186.9 427.5,191.3 423.6,193.7 419.8,189.9" fill="#adab9b" opacity="0.56" filter="url(#b1)"/>
<polygon points="417.4,187.7 423.2,184.4 427.1,187.2 424.7,191.0 420.4,192.0 417.9,190.9" fill="#adab9b" opacity="0.52" filter="url(#b1)"/>
<polygon points="431.2,188.8 448.5,195.8 449.6,202.9 440.7,211.9 429.1,203.8 427.8,197.8" fill="#222822" stroke="#222822" stroke-width="2.5" stroke-linejoin="round"/>
<polygon points="431.3,189.4 446.5,195.0 447.4,200.6 439.6,207.8 429.4,201.3 428.2,196.5" fill="#6b776c" stroke="#6b776c" stroke-width="2" stroke-linejoin="round"/>
<polygon points="432.7,195.0 440.5,196.4 439.5,198.8 436.6,202.9 431.1,199.2 429.8,197.0" fill="#b2bab0" opacity="0.57" filter="url(#b1)"/>
<polygon points="436.3,194.6 444.6,196.3 444.3,198.9 440.0,202.0 434.8,199.3 436.0,197.3" fill="#b2bab0" opacity="0.39" filter="url(#b1)"/>
<polygon points="371.1,192.7 381.8,197.9 384.0,204.8 373.1,215.8 363.9,214.3 359.3,203.0" fill="#161b16" stroke="#161b16" stroke-width="2.5" stroke-linejoin="round"/>
<polygon points="370.5,193.4 379.8,197.5 381.8,203.0 372.2,211.9 364.1,210.7 360.0,201.6" fill="#4c594d" stroke="#4c594d" stroke-width="2" stroke-linejoin="round"/>
<polygon points="372.4,196.0 377.3,196.8 377.8,199.8 373.2,204.2 368.3,203.3 367.7,199.0" fill="#8a9788" opacity="0.60" filter="url(#b1)"/>
<polygon points="369.9,195.4 373.4,196.5 376.5,198.7 370.7,203.3 367.6,202.9 363.6,198.2" fill="#8a9788" opacity="0.36" filter="url(#b1)"/>
<polygon points="399.3,195.4 414.4,201.5 408.1,218.7 396.5,223.6 379.2,216.3 384.1,202.2" fill="#222822" stroke="#222822" stroke-width="2.5" stroke-linejoin="round"/>
<polygon points="398.3,196.4 411.6,201.3 406.1,215.0 395.8,219.0 380.6,213.1 384.9,201.8" fill="#6b776c" stroke="#6b776c" stroke-width="2" stroke-linejoin="round"/>
<polygon points="393.6,197.4 401.8,198.9 398.6,206.2 392.3,207.6 386.5,204.6 387.1,199.7" fill="#b2bab0" opacity="0.33" filter="url(#b1)"/>
<polygon points="398.1,202.5 405.1,204.5 401.7,211.1 397.1,213.2 390.4,208.9 391.7,204.8" fill="#b2bab0" opacity="0.58" filter="url(#b1)"/>
<polygon points="402.4,207.1 416.3,202.2 427.2,212.9 419.5,225.5 404.1,222.7" fill="#1d221d" stroke="#1d221d" stroke-width="2.5" stroke-linejoin="round"/>
<polygon points="403.1,206.9 415.4,203.0 425.0,211.6 418.2,221.6 404.7,219.4" fill="#606c60" stroke="#606c60" stroke-width="2" stroke-linejoin="round"/>
<polygon points="404.7,209.7 410.2,208.7 414.0,212.3 412.0,217.5 406.1,215.4" fill="#a6b0a2" opacity="0.50" filter="url(#b1)"/>
<polygon points="410.3,206.0 417.5,204.3 423.3,208.6 418.8,212.5 412.6,212.6" fill="#a6b0a2" opacity="0.47" filter="url(#b1)"/>
<polygon points="429.9,212.5 438.7,204.5 452.8,204.9 456.1,212.6 449.7,222.6 440.3,225.6 427.9,224.8" fill="#222822" stroke="#222822" stroke-width="2.5" stroke-linejoin="round"/>
<polygon points="430.5,211.2 438.3,204.8 450.6,205.1 453.6,211.3 447.9,219.3 439.7,221.7 428.7,221.0" fill="#6b776c" stroke="#6b776c" stroke-width="2" stroke-linejoin="round"/>
<polygon points="439.3,208.7 441.4,206.7 446.4,206.6 449.3,208.7 446.1,211.7 442.5,213.4 437.0,213.6" fill="#b2bab0" opacity="0.42" filter="url(#b1)"/>
<polygon points="434.7,211.9 438.6,209.1 445.7,209.8 447.9,211.6 442.8,215.0 439.4,216.1 432.8,215.2" fill="#b2bab0" opacity="0.42" filter="url(#b1)"/>
<polygon points="398.5,212.7 397.1,224.8 378.2,224.8 372.6,217.5 385.4,207.7" fill="#1d221d" stroke="#1d221d" stroke-width="2.5" stroke-linejoin="round"/>
<polygon points="396.1,211.8 394.9,221.6 378.3,221.5 373.4,215.7 384.7,207.9" fill="#606c60" stroke="#606c60" stroke-width="2" stroke-linejoin="round"/>
<polygon points="385.5,211.2 384.3,215.9 377.5,215.4 374.6,213.0 380.1,210.3" fill="#a6b0a2" opacity="0.46" filter="url(#b1)"/>
<polygon points="386.4,213.9 383.7,217.7 376.1,217.8 373.2,215.7 379.9,213.0" fill="#a6b0a2" opacity="0.48" filter="url(#b1)"/>
<polygon points="422.1,226.9 413.3,238.6 396.4,238.9 386.4,221.8 403.4,212.9" fill="#161b16" stroke="#161b16" stroke-width="2.5" stroke-linejoin="round"/>
<polygon points="419.2,225.1 411.4,234.5 396.6,234.7 387.7,221.0 402.7,213.9" fill="#4c594d" stroke="#4c594d" stroke-width="2" stroke-linejoin="round"/>
<polygon points="413.0,222.5 408.0,226.3 401.1,226.0 396.4,220.4 404.5,217.3" fill="#8a9788" opacity="0.48" filter="url(#b1)"/>
<polygon points="413.9,219.2 409.8,223.1 401.6,222.9 397.0,217.6 404.6,215.0" fill="#8a9788" opacity="0.59" filter="url(#b1)"/>
<polygon points="421.0,242.5 410.7,237.6 412.5,226.0 419.1,221.9 433.2,217.9 440.6,229.8 434.4,237.8" fill="#191e19" stroke="#191e19" stroke-width="2.5" stroke-linejoin="round"/>
<polygon points="420.6,238.5 411.6,234.6 413.2,225.3 418.9,222.0 431.4,218.8 437.8,228.4 432.4,234.7" fill="#566256" stroke="#566256" stroke-width="2" stroke-linejoin="round"/>
<polygon points="425.2,232.7 422.2,230.4 422.5,227.3 424.6,224.6 430.9,224.0 433.0,228.3 430.6,230.4" fill="#97a394" opacity="0.45" filter="url(#b1)"/>
<polygon points="423.5,228.1 420.7,227.9 418.8,223.0 423.3,222.6 428.6,220.2 430.7,224.7 430.4,227.5" fill="#97a394" opacity="0.34" filter="url(#b1)"/>
<polygon points="455.8,234.1 445.4,248.1 424.4,239.7 430.2,225.8 449.2,225.4" fill="#191e19" stroke="#191e19" stroke-width="2.5" stroke-linejoin="round"/>
<polygon points="453.2,232.7 444.0,243.8 425.6,237.1 430.7,226.0 447.4,225.7" fill="#566256" stroke="#566256" stroke-width="2" stroke-linejoin="round"/>
<polygon points="444.5,233.4 438.1,238.5 431.4,235.5 431.2,229.8 440.9,231.4" fill="#97a394" opacity="0.54" filter="url(#b1)"/>
<polygon points="447.0,229.6 444.2,234.0 436.6,231.9 438.4,226.3 445.4,227.3" fill="#97a394" opacity="0.47" filter="url(#b1)"/>
<polygon points="360.8,239.6 365.4,228.9 379.3,223.6 384.2,230.5 378.6,240.9 365.7,247.8" fill="#222822" stroke="#222822" stroke-width="2.5" stroke-linejoin="round"/>
<polygon points="361.4,237.0 365.4,228.4 377.6,224.3 382.0,229.7 377.0,238.1 365.6,243.6" fill="#6b776c" stroke="#6b776c" stroke-width="2" stroke-linejoin="round"/>
<polygon points="364.9,233.2 367.5,229.1 372.9,228.4 375.1,230.2 372.5,233.8 367.5,236.9" fill="#b2bab0" opacity="0.31" filter="url(#b1)"/>
<polygon points="370.4,234.6 371.0,231.1 378.1,229.3 379.8,231.7 377.8,234.5 371.6,238.2" fill="#b2bab0" opacity="0.40" filter="url(#b1)"/>
<polygon points="408.5,246.0 393.5,259.3 384.1,255.5 375.6,240.7 381.2,233.5 393.2,229.5 407.1,229.8" fill="#2b2b23" stroke="#2b2b23" stroke-width="2.5" stroke-linejoin="round"/>
<polygon points="405.7,243.5 392.5,254.2 384.2,251.1 376.7,239.3 381.6,233.5 392.2,230.3 404.4,230.6" fill="#737366" stroke="#737366" stroke-width="2" stroke-linejoin="round"/>
<polygon points="398.2,241.9 390.7,247.7 386.4,245.6 383.8,239.9 385.9,236.6 390.6,237.3 394.8,235.4" fill="#adab9b" opacity="0.32" filter="url(#b1)"/>
<polygon points="400.5,238.8 395.6,243.9 391.0,242.8 386.6,237.0 389.6,234.9 395.5,233.9 401.1,232.8" fill="#adab9b" opacity="0.39" filter="url(#b1)"/>
<polygon points="417.7,245.3 432.7,234.3 439.3,238.0 436.7,248.6 426.0,257.7 414.3,251.2" fill="#2b2b23" stroke="#2b2b23" stroke-width="2.5" stroke-linejoin="round"/>
<polygon points="418.1,243.9 431.3,235.0 437.1,238.0 434.8,246.4 425.4,253.8 415.1,248.6" fill="#737366" stroke="#737366" stroke-width="2" stroke-linejoin="round"/>
<polygon points="422.1,243.6 429.7,238.8 433.1,240.5 431.5,244.6 426.9,247.6 422.2,245.4" fill="#adab9b" opacity="0.44" filter="url(#b1)"/>
<polygon points="424.6,243.9 430.5,239.8 432.2,240.6 432.9,244.9 427.9,247.6 423.1,246.1" fill="#adab9b" opacity="0.37" filter="url(#b1)"/>
<polygon points="358.1,248.6 362.7,241.0 385.7,244.4 388.2,257.9 368.8,260.7" fill="#191e19" stroke="#191e19" stroke-width="2.5" stroke-linejoin="round"/>
<polygon points="359.3,247.4 363.3,241.3 383.6,244.1 385.8,254.8 368.7,257.0" fill="#566256" stroke="#566256" stroke-width="2" stroke-linejoin="round"/>
<polygon points="364.0,244.6 367.4,242.8 377.1,243.7 379.3,247.5 370.0,249.2" fill="#97a394" opacity="0.50" filter="url(#b1)"/>
<polygon points="371.3,249.4 371.0,246.3 381.0,247.4 383.8,252.2 374.9,254.0" fill="#97a394" opacity="0.55" filter="url(#b1)"/>
<polygon points="422.0,258.5 405.6,258.3 398.5,246.7 415.2,237.4 425.7,244.4" fill="#161b16" stroke="#161b16" stroke-width="2.5" stroke-linejoin="round"/>
<polygon points="420.1,254.8 405.6,254.7 399.4,245.5 414.1,238.0 423.4,243.6" fill="#4c594d" stroke="#4c594d" stroke-width="2" stroke-linejoin="round"/>
<polygon points="414.3,249.2 405.8,249.0 403.9,245.8 410.7,241.5 414.5,244.6" fill="#8a9788" opacity="0.38" filter="url(#b1)"/>
<polygon points="416.9,249.3 409.2,249.1 406.6,246.0 414.1,242.8 419.1,245.5" fill="#8a9788" opacity="0.44" filter="url(#b1)"/>
<polygon points="455.2,259.2 444.3,266.1 429.6,263.3 425.9,255.5 434.7,246.7 446.5,246.3" fill="#191e19" stroke="#191e19" stroke-width="2.5" stroke-linejoin="round"/>
<polygon points="452.7,256.7 443.0,262.2 430.1,260.0 426.8,253.7 434.6,246.7 445.0,246.4" fill="#566256" stroke="#566256" stroke-width="2" stroke-linejoin="round"/>
<polygon points="447.4,253.7 442.5,255.2 435.9,255.1 433.8,252.5 438.7,248.8 443.0,250.2" fill="#97a394" opacity="0.31" filter="url(#b1)"/>
<polygon points="445.6,252.4 441.6,255.2 434.1,253.7 435.1,251.3 437.0,248.8 441.7,247.1" fill="#97a394" opacity="0.47" filter="url(#b1)"/>
<polygon points="381.1,258.2 388.9,245.5 401.0,242.0 412.5,248.1 412.9,264.6 392.1,270.0" fill="#191e19" stroke="#191e19" stroke-width="2.5" stroke-linejoin="round"/>
<polygon points="382.4,256.0 389.2,245.8 399.9,243.0 410.1,247.9 410.4,261.0 392.0,265.4" fill="#566256" stroke="#566256" stroke-width="2" stroke-linejoin="round"/>
<polygon points="388.2,254.4 393.3,249.8 398.7,250.2 402.9,250.5 403.2,256.7 395.5,258.5" fill="#97a394" opacity="0.46" filter="url(#b1)"/>
<polygon points="390.6,253.7 395.8,248.8 399.6,248.1 406.3,250.4 405.6,255.1 395.4,257.4" fill="#97a394" opacity="0.34" filter="url(#b1)"/></g><rect x="365" y="85" width="85" height="175" filter="url(#noise)" opacity="0.35" style="mix-blend-mode:overlay"/></g>

<!-- firebox interior -->
<g clip-path="url(#cFb)">
<rect x="200" y="120" width="250" height="290" fill="url(#gFb)"/>
<!-- flue -->
<polygon points="354,124 403,124 408,142 374,219 340,240 316,240 316,230 348,155 354,153" fill="url(#gFlue)"/>
<polygon points="332,190 372,213 374,219 340,242 316,242 316,230" fill="#a4381c" opacity="0.9" filter="url(#b2)"/>
<path d="M356,138 C362,137 366,142 362,152 L344,196 L330,200 L348,155 L354,153 Z" fill="#6e3a32" opacity="0.8" filter="url(#b2)"/>
<path d="M357,139 Q379,132 403,139.5 L403,147 Q382,138 369,146 Q362,151 358,160 Z" fill="#240a07" opacity="0.65" filter="url(#b2)"/>
<!-- chimney bottom ring -->
<path d="M355,128 Q379,121.5 404,129.5 L404,139.8 Q379,132.5 355,139 Z" fill="#7a4c47"/>
<path d="M355,128 Q379,121.5 404,129.5 L404,132 Q379,124 355,130.5 Z" fill="#8a5e58"/>
<!-- channel interior -->
<polygon points="213,270 311,255 316,300 313,370 213,400" fill="url(#gChanIn)"/>
<polygon points="213,341 269,327 330,345 313.7,368.7 222,397 213,397" fill="url(#gFloor)"/>
<polygon points="213,270 300,258 300,275 213,300" fill="#2a1a18" opacity="0.35" filter="url(#b3)"/>
<!-- glow -->
<polygon points="330,215 316,232 316,258 330,262 350,235" fill="#d8744c" opacity="0.9" filter="url(#b2)"/>
<!-- heat exchanger -->
<polygon points="318,212 371,246 327.5,306 269,272" fill="url(#gHx)" opacity="0.92"/>

<ellipse cx="344" cy="316" rx="44" ry="58" fill="#cf3e0c" opacity="0.85" filter="url(#b6)"/>
<ellipse cx="306" cy="322" rx="13" ry="26" fill="#d84a14" opacity="0.75" filter="url(#b3)"/>
<ellipse cx="402" cy="308" rx="15" ry="8" fill="#f0902a" opacity="0.7" filter="url(#b3)"/>
<g fill="#e8500e" filter="url(#b3)" opacity="0.95"><path d="M297.0,352.0 C298.0,330.0 304.3,315.0 316.3,299.2 S332.6,278.1 332.0,264.0 C334.0,281.6 335.1,303.6 333.2,316.8 S342.6,341.4 343.0,352.0Z"/><path d="M324.0,352.0 C322.7,326.0 334.7,308.3 339.2,289.6 S347.2,264.6 348.0,248.0 C351.0,268.8 361.7,294.8 366.4,310.4 S376.5,339.5 376.0,352.0Z"/><path d="M352.0,352.0 C342.8,332.5 369.1,319.2 374.8,305.2 S378.5,286.5 384.0,274.0 C388.9,289.6 397.8,309.1 392.7,320.8 S399.7,342.6 396.0,352.0Z"/><path d="M319.0,352.0 C319.7,331.0 324.4,316.7 324.8,301.6 S328.4,281.4 328.0,268.0 C329.5,284.8 338.7,305.8 345.8,318.4 S352.7,341.9 353.0,352.0Z"/><path d="M377.0,352.0 C376.8,338.0 383.3,328.5 391.3,318.4 S401.9,305.0 402.0,296.0 C403.8,307.2 405.6,321.2 404.3,329.6 S411.1,345.3 411.0,352.0Z"/><path d="M292.0,352.0 C290.1,336.5 298.9,326.0 304.3,314.8 S310.9,299.9 312.0,290.0 C314.0,302.4 317.0,317.9 315.5,327.2 S320.8,344.6 320.0,352.0Z"/><path d="M343.0,352.0 C349.8,329.0 342.3,313.4 344.8,296.8 S354.1,274.7 350.0,260.0 C349.7,278.4 355.7,301.4 366.1,315.2 S374.3,341.0 377.0,352.0Z"/><path d="M290.0,352.0 C289.7,342.0 293.9,335.2 297.6,328.0 S302.8,318.4 303.0,312.0 C304.1,320.0 306.2,330.0 306.2,336.0 S310.1,347.2 310.0,352.0Z"/></g>
<ellipse cx="346" cy="322" rx="36" ry="26" fill="#ff7c14" opacity="0.9" filter="url(#b3)"/>
<g fill="#ff8412" filter="url(#b2)"><path d="M307.0,350.0 C304.7,332.0 315.5,319.8 323.4,306.8 S332.6,289.5 334.0,278.0 C336.4,292.4 338.8,310.4 335.6,321.2 S341.9,341.4 341.0,350.0Z"/><path d="M329.0,350.0 C323.7,327.0 341.5,311.4 342.1,294.8 S342.8,272.7 346.0,258.0 C349.6,276.4 361.6,299.4 364.2,313.2 S371.1,339.0 369.0,350.0Z"/><path d="M354.0,350.0 C361.3,333.5 352.5,322.3 363.9,310.4 S382.4,294.6 378.0,284.0 C377.4,297.2 373.7,313.7 375.2,323.6 S383.1,342.1 386.0,350.0Z"/><path d="M326.0,350.0 C329.5,331.5 326.8,318.9 328.4,305.6 S334.1,287.8 332.0,276.0 C332.1,290.8 336.7,309.3 343.1,320.4 S348.6,341.1 350.0,350.0Z"/><path d="M376.0,350.0 C383.4,339.0 373.0,331.5 382.0,323.6 S397.4,313.0 393.0,306.0 C392.0,314.8 388.4,325.8 390.8,332.4 S397.1,344.7 400.0,350.0Z"/><path d="M300.0,350.0 C294.4,338.0 309.2,329.8 310.3,321.2 S309.7,309.7 313.0,302.0 C315.7,311.6 321.5,323.6 319.3,330.8 S322.2,344.2 320.0,350.0Z"/><path d="M346.0,350.0 C342.5,330.0 353.4,316.4 350.3,302.0 S346.9,282.8 349.0,270.0 C351.1,286.0 361.3,306.0 365.7,318.0 S369.4,340.4 368.0,350.0Z"/></g>
<g fill="none" stroke="#ff9a1c" stroke-linecap="round" filter="url(#b1)"><path d="M382.0,346.0 C388.7,334.1 379.3,330.1 385.9,326.1 S394.5,312.1 389.8,306.2" stroke-width="4.0"/><path d="M341.9,346.0 C346.8,330.5 333.3,325.4 338.2,320.2 S338.0,302.2 334.5,294.4" stroke-width="3.6"/><path d="M325.7,346.0 C332.3,335.2 314.3,331.6 320.9,328.0 S320.8,315.5 316.2,310.1" stroke-width="4.3"/><path d="M341.7,346.0 C344.0,330.8 341.8,325.8 344.0,320.7 S348.0,303.0 346.4,295.4" stroke-width="2.6"/><path d="M370.6,346.0 C368.7,333.9 374.2,329.9 372.2,325.9 S372.5,311.8 373.8,305.8" stroke-width="4.9"/><path d="M337.0,346.0 C335.9,328.8 336.9,323.1 335.7,317.3 S333.6,297.3 334.4,288.7" stroke-width="4.2"/><path d="M333.2,346.0 C329.7,337.9 336.4,335.2 332.9,332.5 S330.2,323.0 332.6,319.0" stroke-width="4.0"/><path d="M343.8,346.0 C348.9,328.5 335.5,322.6 340.6,316.8 S341.0,296.4 337.4,287.6" stroke-width="3.3"/><path d="M373.3,346.0 C379.7,338.4 363.0,335.8 369.4,333.3 S370.1,324.4 365.6,320.6" stroke-width="2.6"/><path d="M330.0,346.0 C332.8,332.9 330.5,328.6 333.3,324.2 S338.4,308.9 336.5,302.4" stroke-width="3.4"/><path d="M331.1,346.0 C330.3,335.7 334.6,332.3 333.9,328.8 S336.1,316.8 336.6,311.7" stroke-width="3.1"/><path d="M316.6,346.0 C311.3,334.6 323.9,330.8 318.6,326.9 S317.0,313.6 320.7,307.9" stroke-width="3.1"/><path d="M351.6,346.0 C344.5,324.4 359.7,317.2 352.6,310.0 S348.5,284.8 353.5,274.0" stroke-width="2.9"/><path d="M386.0,346.0 C393.6,341.5 377.5,340.0 385.2,338.5 S389.7,333.3 384.3,331.0" stroke-width="4.5"/><path d="M363.0,346.0 C355.8,327.4 373.2,321.3 366.0,315.1 S364.0,293.4 369.1,284.1" stroke-width="3.8"/><path d="M387.1,346.0 C379.5,337.1 393.1,334.1 385.5,331.1 S378.7,320.7 384.0,316.2" stroke-width="3.4"/></g>
<ellipse cx="347" cy="326" rx="29" ry="20" fill="#ffb62c" opacity="0.9" filter="url(#b3)"/>
<ellipse cx="348" cy="332" rx="13" ry="10" fill="#ffe87a" opacity="0.8" filter="url(#b2)"/>
<g fill="#ffc428" filter="url(#b1)"><path d="M319.0,348.0 C325.6,334.0 315.6,324.5 325.1,314.4 S340.0,301.0 336.0,292.0 C334.9,303.2 329.4,317.2 329.4,325.6 S334.4,341.3 337.0,348.0Z"/><path d="M336.0,348.0 C329.1,329.5 347.3,316.9 345.7,303.6 S341.8,285.8 346.0,274.0 C349.3,288.8 359.2,307.3 359.4,318.4 S362.8,339.1 360.0,348.0Z"/><path d="M356.0,346.0 C349.3,332.5 365.6,323.3 367.1,313.6 S366.0,300.6 370.0,292.0 C372.8,302.8 377.2,316.3 372.8,324.4 S374.7,339.5 372.0,346.0Z"/><path d="M333.5,342.0 C331.3,327.0 338.1,316.8 335.5,306.0 S332.7,291.6 334.0,282.0 C335.3,294.0 342.1,309.0 345.2,318.0 S347.4,334.8 346.5,342.0Z"/><path d="M373.5,346.0 C371.8,337.5 377.5,331.7 380.2,325.6 S383.0,317.4 384.0,312.0 C385.1,318.8 386.5,327.3 384.9,332.4 S387.2,341.9 386.5,346.0Z"/><path d="M310.0,352.0 C314.9,343.0 307.2,336.9 312.1,330.4 S321.0,321.8 318.0,316.0 C317.1,323.2 314.7,332.2 316.6,337.6 S320.0,347.7 322.0,352.0Z"/><path d="M348.5,330.0 C355.5,317.0 343.5,308.2 344.8,298.8 S351.2,286.3 347.0,278.0 C345.5,288.4 345.9,301.4 353.1,309.2 S356.7,323.8 359.5,330.0Z"/><path d="M329.5,318.0 C329.1,308.5 331.5,302.0 334.9,295.2 S338.8,286.1 339.0,280.0 C339.6,287.6 338.9,297.1 336.9,302.8 S338.7,313.4 338.5,318.0Z"/><path d="M363.5,316.0 C369.8,308.0 358.8,302.6 365.0,296.8 S375.8,289.1 372.0,284.0 C370.5,290.4 365.6,298.4 366.9,303.2 S370.0,312.2 372.5,316.0Z"/><path d="M342.0,300.0 C346.5,291.5 339.0,285.7 340.7,279.6 S345.7,271.4 343.0,266.0 C342.1,272.8 341.8,281.3 345.7,286.4 S348.2,295.9 350.0,300.0Z"/></g>
<g fill="none" stroke="#ffd848" stroke-linecap="round" filter="url(#b1)"><path d="M329.6,346.0 C333.2,341.2 325.7,339.6 329.3,338.0 S331.6,332.3 329.1,329.9" stroke-width="3.4"/><path d="M375.0,346.0 C374.7,341.2 372.2,339.6 371.9,338.0 S368.4,332.4 368.7,330.0" stroke-width="1.8"/><path d="M350.6,346.0 C351.6,330.5 347.7,325.3 348.6,320.1 S347.3,302.0 346.7,294.2" stroke-width="3.3"/><path d="M344.7,346.0 C340.9,336.3 351.6,333.0 347.8,329.8 S348.3,318.4 351.0,313.5" stroke-width="3.3"/><path d="M359.3,346.0 C355.3,336.9 364.8,333.9 360.8,330.8 S359.6,320.2 362.4,315.7" stroke-width="2.8"/><path d="M332.3,346.0 C329.0,338.8 334.8,336.4 331.6,334.0 S328.6,325.7 330.9,322.1" stroke-width="2.6"/><path d="M351.0,346.0 C349.4,330.4 349.4,325.2 347.9,320.0 S343.6,301.8 344.7,294.0" stroke-width="2.2"/><path d="M351.6,346.0 C346.1,330.5 355.0,325.3 349.5,320.1 S343.7,302.0 347.5,294.2" stroke-width="1.7"/><path d="M351.7,346.0 C351.0,334.0 350.3,330.0 349.6,325.9 S347.0,311.9 347.5,305.9" stroke-width="2.4"/><path d="M345.0,346.0 C346.4,331.7 339.5,326.9 341.0,322.2 S338.1,305.5 337.0,298.4" stroke-width="3.1"/><path d="M326.5,346.0 C324.3,335.1 326.3,331.5 324.1,327.9 S320.2,315.2 321.8,309.8" stroke-width="1.8"/><path d="M345.0,346.0 C342.6,335.2 344.0,331.7 341.6,328.1 S336.6,315.5 338.3,310.2" stroke-width="2.5"/><path d="M359.3,346.0 C359.0,335.6 360.1,332.2 359.8,328.7 S360.0,316.6 360.2,311.4" stroke-width="2.1"/><path d="M371.9,346.0 C367.6,341.7 379.3,340.3 374.9,338.9 S374.9,333.9 378.0,331.8" stroke-width="2.5"/></g>
<g fill="#fff07a" filter="url(#b1)"><path d="M343.0,348.0 C344.9,336.5 343.3,328.7 345.2,320.4 S349.1,309.4 348.0,302.0 C348.0,311.2 349.3,322.7 351.5,329.6 S354.3,342.5 355.0,348.0Z"/><path d="M325.5,350.0 C328.9,342.0 323.7,336.6 328.5,330.8 S336.0,323.1 334.0,318.0 C333.4,324.4 330.6,332.4 330.7,337.2 S333.1,346.2 334.5,350.0Z"/><path d="M359.0,348.0 C359.3,340.5 360.2,335.4 362.8,330.0 S366.2,322.8 366.0,318.0 C366.3,324.0 366.0,331.5 365.2,336.0 S366.9,344.4 367.0,348.0Z"/><path d="M340.0,328.0 C340.4,320.5 340.7,315.4 340.1,310.0 S340.3,302.8 340.0,298.0 C340.2,304.0 342.4,311.5 344.5,316.0 S345.8,324.4 346.0,328.0Z"/><path d="M349.5,312.0 C347.0,306.5 352.9,302.8 351.2,298.8 S348.5,293.5 350.0,290.0 C351.0,294.4 354.6,299.9 355.0,303.2 S355.5,309.4 354.5,312.0Z"/></g>
<g fill="none" stroke="#a02c08" stroke-width="2.2" opacity="0.55" filter="url(#b1)" stroke-linecap="round">
<path d="M334,330 C330,316 338,304 336,290"/><path d="M360,328 C366,314 358,300 362,284"/><path d="M322,338 C316,326 322,314 318,302"/><path d="M376,334 C380,322 374,312 378,300"/>
</g>


<g filter="url(#b1)">
<path d="M314,394 L315,370 L320,352 L336,342 L356,346 L372,336 L396,331 L416,337 L423,350 L423,361 L394,372 L390,377 L349,388 Z" fill="#7a2609"/>
<polygon points="324.8,353.4 338.7,347.3 344.9,350.9 352.0,352.8 342.8,362.0 334.3,363.6 323.9,362.5" fill="#1d0a04"/><polygon points="384.5,344.9 373.2,351.6 363.9,353.0 359.3,350.2 369.0,342.0 380.2,336.8 388.1,337.0" fill="#1d0a04"/><polygon points="336.8,382.5 337.7,377.1 355.7,370.3 378.5,367.2 378.1,374.6 363.5,380.8 342.6,384.0" fill="#1d0a04"/><polygon points="393.3,355.2 395.3,349.8 401.5,346.0 411.5,342.4 415.0,349.2 410.2,352.7 404.2,355.1" fill="#1d0a04"/><polygon points="333.1,370.3 339.9,374.2 336.9,379.4 330.5,380.7 323.7,381.3 321.8,375.3 326.1,371.8" fill="#1d0a04"/>
<g fill="none" stroke-linecap="round"><path d="M331.6,352.2 L339.8,353.5" stroke="#c8400a" stroke-width="1.4"/><path d="M339.2,357.5 L343.3,351.8" stroke="#ff7a18" stroke-width="1.5"/><path d="M327.4,360.9 L335.6,362.5" stroke="#e8500e" stroke-width="1.5"/><path d="M342.6,359.9 L348.1,352.7" stroke="#c8400a" stroke-width="1.4"/><path d="M361.6,354.2 L367.7,353.6" stroke="#ff9a20" stroke-width="1.7"/><path d="M375.7,343.7 L386.7,344.7" stroke="#ff7a18" stroke-width="2.3"/><path d="M381.0,342.0 L389.1,338.4" stroke="#c8400a" stroke-width="1.4"/><path d="M377.4,346.2 L383.7,346.7" stroke="#ff7a18" stroke-width="1.5"/><path d="M356.4,374.9 L367.0,369.5" stroke="#ff9a20" stroke-width="1.8"/><path d="M348.1,382.0 L354.1,380.3" stroke="#e8500e" stroke-width="1.4"/><path d="M362.6,379.6 L371.6,371.2" stroke="#c8400a" stroke-width="1.7"/><path d="M331.4,380.2 L344.7,378.4" stroke="#e8500e" stroke-width="2.6"/><path d="M404.5,347.2 L416.8,347.6" stroke="#ff7a18" stroke-width="2.3"/><path d="M397.4,349.1 L407.3,349.3" stroke="#ff9a20" stroke-width="2.5"/><path d="M394.9,353.3 L404.7,353.6" stroke="#ff9a20" stroke-width="2.1"/><path d="M399.1,354.1 L410.1,348.4" stroke="#ff9a20" stroke-width="2.2"/><path d="M327.0,377.0 L337.6,376.9" stroke="#c8400a" stroke-width="1.6"/><path d="M326.4,378.2 L338.2,370.7" stroke="#c8400a" stroke-width="2.1"/><path d="M320.6,372.9 L331.5,377.3" stroke="#e8500e" stroke-width="1.4"/><path d="M329.7,378.3 L339.5,376.9" stroke="#c8400a" stroke-width="1.9"/><circle cx="357.7" cy="365.2" r="2.0" fill="#c8400a"/><circle cx="389.5" cy="356.2" r="1.7" fill="#ff7a18"/><circle cx="402.5" cy="374.9" r="2.2" fill="#ff7a18"/><circle cx="412.7" cy="362.9" r="1.6" fill="#ff7a18"/><circle cx="373.3" cy="354.9" r="2.0" fill="#ff7a18"/><circle cx="398.9" cy="357.9" r="2.3" fill="#ff7a18"/><circle cx="365.9" cy="348.0" r="1.7" fill="#8a2c0a"/><circle cx="412.0" cy="378.8" r="2.1" fill="#ff7a18"/><circle cx="399.2" cy="367.1" r="1.7" fill="#ff7a18"/><circle cx="375.2" cy="365.4" r="1.4" fill="#8a2c0a"/><circle cx="362.3" cy="379.1" r="1.9" fill="#8a2c0a"/><circle cx="413.4" cy="356.4" r="2.5" fill="#c8400a"/><circle cx="378.0" cy="351.9" r="2.6" fill="#8a2c0a"/><circle cx="345.6" cy="342.7" r="2.5" fill="#ff7a18"/></g>
</g>
<g filter="url(#b1)">
<path d="M345,366 C344,352 351,342 355,328 C361,340 365,352 360,364 C356,370 349,371 345,366 Z" fill="#ffb62c"/>
<path d="M350,362 C350,352 354,345 356,338 C359,346 361,354 358,362 Z" fill="#ffe45a"/>
<path d="M381,348 C380,340 384,334 387,326 C391,334 393,342 390,349 C387,352 383,352 381,348 Z" fill="#ffae28"/>
<path d="M314,382 C312,366 316,356 317,344 C323,356 327,368 324,382 Z" fill="#ffb62c"/>
<path d="M316,378 C316,368 318,362 319,354 C322,362 323,370 321,378 Z" fill="#ffe860"/>
<path d="M301,358 C301,348 303.5,341 305.5,333 C308,342 309.5,351 307.5,360 Z" fill="#ffb428"/>
<path d="M331,386 C331,378 334,372 336,366 C339,373 340,380 338,387 Z" fill="#ff9c20"/>
<path d="M366,372 C366,365 369,360 371,354 C374,361 375,367 373,373 Z" fill="#ff8a1c"/>
</g>

</g>

<!-- chimney tube -->
<g mask="url(#mCh)">
<path d="M351,20 L405.5,20 L405.5,130 Q379,121.5 355.5,128 L355.5,153 L351,153 Z" fill="url(#gCh)"/>
</g>

<!-- channel top surface -->
<polygon points="189.3,232 251.7,221.7 298.3,258.5 316,257 315.7,259.3 217.5,281.7 216.8,274 207,274 207,254" fill="url(#gTop)"/>
<polygon points="268.5,236 273,239.5 273,242 268.5,238.5" fill="#262222"/><polygon points="286,250 290.5,253.5 290.5,256 286,252.5" fill="#262222"/>
<!-- channel dark vertical duct -->
<polygon points="299,150 320,147.5 317.5,228 316,231 316.5,256 299,258.5" fill="#2a2222"/>
<polygon points="301,152 313,150.5 313.5,256 301,257" fill="#3a3030"/>
<!-- deflector V -->
<polygon points="250,274.2 315.7,259.3 316,257.5 280.6,291" fill="#1c1a1a"/>

<!-- channel underside -->
<polygon points="214,414 302,391 344,412 336,424 232,438" fill="#c4c4c4" filter="url(#b3)" opacity="0.75"/>
<polygon points="222,398 313,369.5 313.7,394 302.5,391 219,414 214,410" fill="url(#gUnder)"/>
<path d="M219,414 L302.5,391 L292.5,381" fill="none" stroke="#3c3c3c" stroke-width="1.2"/>
<path d="M290,378 L300,383 L300,388" fill="none" stroke="#555" stroke-width="2"/>
<polygon points="313.7,394 344,388 344,414 330,407" fill="#2c2c2c"/>
<polygon points="213,397.5 222,397.5 217,405.5 213,409" fill="#333"/>
<!-- ash pan -->
<polygon points="344,388 349,387 390,376 394,371 395,399 344,414" fill="#1e1e1c"/>
<polygon points="352.0,387.0 357.0,385.6 355.2,393.5" fill="#f0e000"/>
<polygon points="360.6,384.5 365.6,383.1 363.8,391.0" fill="#f0e000"/>
<polygon points="369.2,382.0 374.2,380.6 372.4,388.5" fill="#f0e000"/>
<polygon points="377.8,379.5 382.8,378.1 381.0,386.0" fill="#f0e000"/>
<polygon points="386.4,377.0 391.4,375.6 389.6,383.5" fill="#f0e000"/>

<!-- door glass -->
<polygon points="160,240 212,290 212,394 166,346" fill="url(#gGlass)"/>
<polygon points="167,250 212,292 212,322 167,282" fill="#33201f" opacity="0.5"/>
<!-- door frame -->
<path d="M143,201 C143,198 145,196.5 147.5,198.5 L207,255.5 L207,272 L212,276 L212,292 L166,248 L166,346 L211,393 L213,412 L207,412 L150.5,359.5 L149.8,352 Z" fill="url(#gFrame)"/>
<path d="M155.5,229 L205,276 L212,292 L166,248 L166,346 L160.5,351 Z" fill="#383838"/>
<path d="M163,244 L166,248 L166,346 L163,343 Z" fill="#1e1c1c"/>
<path d="M166,248 L212,292 L212,295 L166,251 Z" fill="#222" opacity="0.8"/>
<path d="M146,197.6 C148,196 151,196.5 153,198.5 L213.5,254.8 L207,256 L207,260 L145.5,201.5 Z" fill="#666"/>
<path d="M150,197 L212,254.6" stroke="#7a7a7a" stroke-width="1.2" fill="none"/>
<path d="M146,207 L206,264 M146,211 L206,268" stroke="#404040" stroke-width="0.8" fill="none"/>
<path d="M150,352 L207,405 L207,412 L150,359 Z" fill="#333"/>
<path d="M166,346 L211,393 L211,396 L164,348 Z" fill="#6a6a6a" opacity="0.6"/>
<path d="M199,262 L207,270 L207,290 L199,282 Z" fill="#7a7a7a" opacity="0.7"/>
<rect x="151" y="231.5" width="2.2" height="7" rx="1" fill="#3c3c3c"/><rect x="156" y="332" width="2.4" height="12" rx="1" fill="#3a3a3a"/>
<!-- handle -->
<rect x="200" y="420.5" width="9" height="5" rx="2.5" fill="#cfcfcf" stroke="#999" stroke-width="0.6"/>

<!-- convector casing right -->
<polygon points="440,119 453.5,115.5 437.5,389 424.5,360 430,252" fill="url(#gCas)"/>
<rect x="442.6" y="127.3" width="1.8" height="20" fill="#e9a090"/>
<rect x="447.4" y="130" width="1.8" height="21" fill="#d88a7a"/>

<!-- yellow outlines -->
<use href="#yl" stroke="#f9f38e" stroke-width="3.7" opacity="0.7"/>
<use href="#yl" stroke="#f3e600" stroke-width="2.3"/>
<path d="M453.8,115.5 L437.8,389" fill="none" stroke="#fff36a" stroke-width="5" opacity="0.7" filter="url(#b1)"/>
<path d="M453.8,115.5 L437.8,389" fill="none" stroke="#f3e600" stroke-width="3.4" stroke-linecap="round"/>

<!-- leaders -->
<g stroke="#808080" stroke-width="1" opacity="0.6"><line x1="118.5" y1="120.6" x2="305" y2="120.6"/><line x1="123.5" y1="252.6" x2="239" y2="252.6"/><line x1="125" y1="306.5" x2="192.5" y2="306.5"/><line x1="145" y1="375.8" x2="290" y2="375.8"/><line x1="112" y1="423.7" x2="203" y2="423.7"/><line x1="390" y1="95.3" x2="465.5" y2="95.3"/><line x1="418" y1="175.9" x2="465.5" y2="175.9"/><line x1="441" y1="236.1" x2="465.5" y2="236.1"/><line x1="338" y1="269.5" x2="465.5" y2="269.5"/><line x1="418" y1="347.9" x2="465.5" y2="347.9"/><line x1="371" y1="378" x2="465.5" y2="378"/><line x1="356" y1="411.9" x2="465.5" y2="411.9"/></g>
<g fill="#fff"><circle cx="305.3" cy="120.8" r="2.1"/><circle cx="177.4" cy="255" r="2.1"/><circle cx="239" cy="252.5" r="2.1"/><circle cx="192.4" cy="307" r="2.1"/><circle cx="290" cy="375.6" r="2.1"/><circle cx="203.3" cy="423.3" r="2.1"/><circle cx="390" cy="95.3" r="2.1"/><circle cx="418" cy="175.9" r="2.1"/><circle cx="441" cy="236.1" r="2.1"/><circle cx="338" cy="268.8" r="2.1"/><circle cx="418" cy="348" r="2.1"/><circle cx="370.7" cy="377.7" r="2.1"/><circle cx="355.8" cy="412" r="2.1"/></g>

<!-- labels -->
<g opacity="0.86">
<text x="32" y="124.1" textLength="79.2" lengthAdjust="spacing">Вентилируемая</text>
<text x="32" y="137.6">каменка</text>
<text x="32" y="242.5" textLength="70.7" lengthAdjust="spacing">Панорамный</text>
<text x="32" y="256.1" textLength="91.2" lengthAdjust="spacing">топливный канал</text>
<text x="32" y="309.2" textLength="92.5" lengthAdjust="spacing">Светопрозрачный</text>
<text x="32" y="323.3">экран</text>
<text x="32" y="337.2" textLength="85.3" lengthAdjust="spacing">диагональ 58 см</text>
<text x="32" y="379.3" textLength="107.2" lengthAdjust="spacing">Клапан регулировки</text>
<text x="32" y="393.5">горения</text>
<text x="32" y="427.3" textLength="74.7" lengthAdjust="spacing">Ручка клапана</text>
<text x="32" y="441.5" textLength="64" lengthAdjust="spacing">регулировки</text>
<text x="472.5" y="99.3" textLength="48.3" lengthAdjust="spacing">Дымоход</text>
<text x="472.5" y="180.7" textLength="93.4" lengthAdjust="spacing">Невентилируемая</text>
<text x="472.5" y="194.5">каменка</text>
<text x="472.5" y="240.1" textLength="92.8" lengthAdjust="spacing">Кожух-конвектор</text>
<text x="472.5" y="274" textLength="63" lengthAdjust="spacing">Встроенный</text>
<text x="472.5" y="287.3" textLength="81.5" lengthAdjust="spacing">теплообменник</text>
<text x="474" y="301.5" textLength="87.3" lengthAdjust="spacing">(в модификации</text>
<text x="472.5" y="315.3" textLength="111.5" lengthAdjust="spacing">с теплообменником)</text>
<text x="472.5" y="351.9" textLength="56.8" lengthAdjust="spacing">Топливник</text>
<text x="472.5" y="382" textLength="104.3" lengthAdjust="spacing">Чугунный колосник</text>
<text x="472.5" y="416.1" textLength="42.2" lengthAdjust="spacing">Зольник</text>
</g>

</svg>
</body></html>
